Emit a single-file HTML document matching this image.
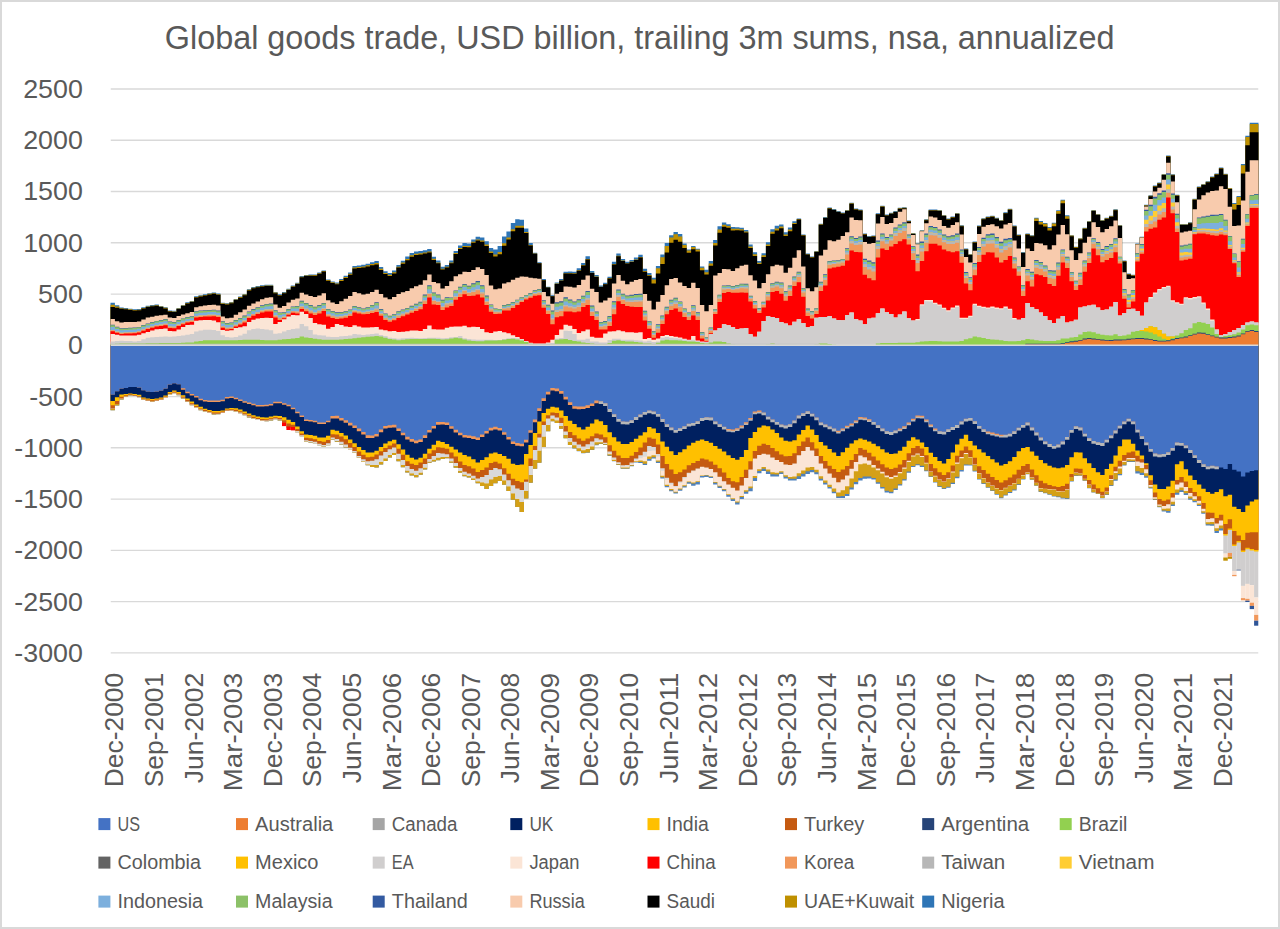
<!DOCTYPE html>
<html><head><meta charset="utf-8"><title>Global goods trade</title>
<style>
html,body{margin:0;padding:0;background:#fff;}
body{width:1280px;height:929px;overflow:hidden;font-family:"Liberation Sans",sans-serif;}
svg{display:block}
svg text{font-family:"Liberation Sans",sans-serif;}
</style></head><body>
<svg width="1280" height="929" viewBox="0 0 1280 929">
<rect x="0" y="0" width="1280" height="929" fill="#ffffff"/>
<rect x="1" y="1" width="1278" height="927" fill="none" stroke="#d9d9d9" stroke-width="2"/>
<defs><clipPath id="pc"><rect x="110.5" y="80" width="1148.0" height="580"/></clipPath></defs>
<g clip-path="url(#pc)">
<line x1="110.5" x2="1258.5" y1="89.0" y2="89.0" stroke="#d9d9d9" stroke-width="1.4"/>
<line x1="110.5" x2="1258.5" y1="140.3" y2="140.3" stroke="#d9d9d9" stroke-width="1.4"/>
<line x1="110.5" x2="1258.5" y1="191.5" y2="191.5" stroke="#d9d9d9" stroke-width="1.4"/>
<line x1="110.5" x2="1258.5" y1="242.8" y2="242.8" stroke="#d9d9d9" stroke-width="1.4"/>
<line x1="110.5" x2="1258.5" y1="294.1" y2="294.1" stroke="#d9d9d9" stroke-width="1.4"/>
<line x1="110.5" x2="1258.5" y1="345.3" y2="345.3" stroke="#d9d9d9" stroke-width="1.4"/>
<line x1="110.5" x2="1258.5" y1="396.6" y2="396.6" stroke="#d9d9d9" stroke-width="1.4"/>
<line x1="110.5" x2="1258.5" y1="447.8" y2="447.8" stroke="#d9d9d9" stroke-width="1.4"/>
<line x1="110.5" x2="1258.5" y1="499.1" y2="499.1" stroke="#d9d9d9" stroke-width="1.4"/>
<line x1="110.5" x2="1258.5" y1="550.4" y2="550.4" stroke="#d9d9d9" stroke-width="1.4"/>
<line x1="110.5" x2="1258.5" y1="601.6" y2="601.6" stroke="#d9d9d9" stroke-width="1.4"/>
<line x1="110.5" x2="1258.5" y1="652.9" y2="652.9" stroke="#d9d9d9" stroke-width="1.4"/>
<path d="M107.5,345.3V302.8H114.9V305.3H119.3V307.6H123.7V308.1H128.1V308.7H132.5V309.3H136.9V309.1H141.3V307.3H145.7V305.8H150.1V305.1H154.5V304.6H158.9V305.9H163.3V307.2H167.7V310.4H172.1V310.8H176.5V307.9H180.9V304.9H185.3V302.3H189.7V300.9H194.1V296.3H198.5V295.2H202.9V294.3H207.3V293.2H211.7V292.6H216.1V293.5H220.5V302.7H224.9V303.2H229.3V302.0H233.7V298.9H238.1V296.5H242.5V294.0H246.9V289.2H251.3V287.1H255.6V286.0H260.0V285.2H264.4V284.8H273.2V292.0H277.6V294.3H282.0V292.1H286.4V288.7H290.8V285.5H295.2V282.7H299.6V276.0H304.0V274.9H308.4V274.6H312.8V274.5H317.2V272.6H321.6V270.4H326.0V279.5H330.4V281.5H334.8V282.4H339.2V278.9H343.6V275.8H348.0V272.4H352.4V266.0H356.8V265.4H361.2V264.7H365.6V263.7H370.0V262.2H374.4V260.9H378.8V266.9H383.2V271.3H387.6V273.0H392.0V270.6H396.4V265.1H400.8V260.7H405.2V256.6H409.6V252.9H414.0V251.4H418.4V251.1H422.8V250.2H427.2V249.1H431.6V256.7H436.0V260.5H440.4V266.8H444.8V265.1H449.2V260.6H453.6V251.1H458.0V245.6H462.4V243.1H466.8V243.4H471.2V239.5H475.6V236.7H480.0V237.5H484.4V241.3H488.8V247.9H493.2V249.6H497.6V245.9H502.0V236.4H506.4V231.4H510.8V223.0H515.2V219.3H519.6V219.7H524.0V228.4H528.4V243.1H532.8V252.7H537.2V262.2H541.5V279.1H545.9V286.7H550.3V295.2H554.7V282.4H559.1V278.9H563.5V271.7H567.9V271.6H572.3V271.7H576.7V268.2H581.1V262.9H585.5V256.3H589.9V270.9H594.3V275.0H598.7V285.5H603.1V282.7H607.5V276.7H611.9V261.8H616.3V253.5H620.7V259.1H625.1V261.8H629.5V259.9H633.9V257.6H638.3V254.7H642.7V268.8H647.1V272.9H651.5V277.8H655.9V266.0H660.3V254.5H664.7V243.1H669.1V235.2H673.5V231.9H677.9V234.1H682.3V243.6H686.7V249.6H691.1V246.0H695.5V248.7H699.9V266.4H704.3V269.8H708.7V261.0H713.1V240.1H717.5V226.3H721.9V222.4H726.3V224.2H730.7V226.9H735.1V227.2H739.5V227.8H743.9V230.0H748.3V244.4H752.7V252.3H757.1V261.0H761.5V253.2H765.9V242.3H770.3V229.2H774.7V225.7H779.1V224.4H783.5V232.3H787.9V227.4H792.3V221.3H796.7V218.4H801.1V234.5H805.5V253.6H809.9V256.4H814.3V250.9H818.7V223.7H823.1V217.1H827.5V207.4H831.8V209.1H836.2V211.1H840.6V212.6H845.0V209.9H849.4V202.7H853.8V208.4H858.2V209.6H862.6V233.4H867.0V236.1H871.4V235.4H875.8V213.3H880.2V205.7H884.6V214.6H889.0V212.8H893.4V211.1H897.8V207.7H902.2V207.2H906.6V220.5H911.0V233.0H915.4V243.2H919.8V230.2H924.2V219.2H928.6V209.6H937.4V210.0H941.8V214.9H946.2V218.4H950.6V216.5H955.0V212.9H959.4V225.2H963.8V248.6H968.2V253.9H972.6V241.5H977.0V225.6H981.4V218.2H985.8V216.5H990.2V215.7H994.6V217.8H999.0V219.9H1003.4V212.3H1007.8V208.7H1012.2V225.6H1016.6V234.5H1021.0V252.1H1025.4V233.5H1029.8V235.2H1034.2V217.7H1038.6V221.1H1043.0V222.9H1047.4V227.1H1051.8V222.7H1056.2V210.2H1060.6V199.8H1065.0V215.3H1069.4V235.3H1073.8V246.8H1078.2V238.2H1082.6V227.7H1087.0V220.9H1091.4V210.0H1095.8V214.0H1100.2V220.1H1104.6V217.8H1109.0V215.8H1113.4V209.2H1117.7V225.1H1122.1V260.6H1126.5V273.4H1130.9V274.8H1135.3V243.4H1139.7V236.7H1144.1V204.8H1148.5V195.3H1152.9V185.5H1157.3V182.4H1161.7V173.9H1166.1V155.6H1170.5V174.3H1174.9V194.7H1179.3V224.1H1188.1V222.3H1192.5V198.7H1196.9V186.5H1201.3V183.9H1205.7V181.3H1210.1V176.6H1214.5V173.5H1218.9V167.6H1223.3V173.7H1227.7V188.1H1232.1V203.1H1236.5V195.9H1240.9V164.0H1245.3V135.8H1249.7V122.8H1261.5V345.3Z" fill="#2e75b6"/>
<path d="M107.5,345.3V304.8H114.9V306.5H119.3V308.2H123.7V308.7H128.1V309.3H132.5V309.9H136.9V309.7H141.3V307.9H145.7V306.4H150.1V305.7H154.5V305.2H158.9V306.5H163.3V307.8H167.7V311.0H172.1V311.4H176.5V308.5H180.9V305.5H185.3V303.0H189.7V301.5H194.1V296.9H198.5V295.8H202.9V294.9H207.3V293.8H211.7V293.2H216.1V294.2H220.5V303.3H224.9V303.8H229.3V302.6H233.7V299.5H238.1V297.1H242.5V294.6H246.9V289.8H251.3V287.8H255.6V286.7H260.0V285.9H264.4V285.4H273.2V292.6H277.6V294.9H282.0V292.8H286.4V289.4H290.8V286.2H295.2V283.4H299.6V276.7H304.0V275.6H308.4V275.2H312.8V275.1H317.2V273.2H321.6V271.1H326.0V280.1H330.4V282.3H334.8V283.4H339.2V280.1H343.6V277.1H348.0V273.7H352.4V267.4H356.8V266.9H361.2V266.4H365.6V265.3H370.0V264.0H374.4V263.1H378.8V268.8H383.2V273.0H387.6V274.8H392.0V272.3H396.4V266.7H400.8V262.6H405.2V259.0H409.6V255.3H414.0V253.7H418.4V253.3H422.8V252.4H427.2V251.4H431.6V258.8H436.0V262.4H440.4V268.7H444.8V266.8H449.2V262.4H453.6V253.1H458.0V247.9H462.4V245.9H466.8V246.0H471.2V241.8H475.6V239.4H480.0V240.6H484.4V244.6H488.8V251.6H493.2V254.5H497.6V252.1H502.0V243.3H506.4V237.4H510.8V229.2H515.2V225.7H519.6V225.8H524.0V231.9H528.4V245.0H532.8V253.5H537.2V262.9H541.5V280.0H545.9V287.4H550.3V296.0H554.7V283.6H559.1V280.4H563.5V273.2H567.9V273.1H572.3V273.3H576.7V270.2H581.1V264.9H585.5V259.0H589.9V272.7H594.3V276.5H598.7V286.7H603.1V283.9H607.5V278.1H611.9V264.1H616.3V255.7H620.7V260.6H625.1V263.3H629.5V261.6H633.9V259.5H638.3V256.9H642.7V271.1H647.1V274.9H651.5V279.6H655.9V268.2H660.3V257.3H664.7V245.9H669.1V237.4H673.5V234.2H677.9V236.4H682.3V244.9H686.7V250.5H691.1V247.0H695.5V249.5H699.9V267.8H704.3V272.2H708.7V263.4H713.1V242.9H717.5V229.6H721.9V224.7H726.3V226.0H730.7V228.8H739.5V229.2H743.9V231.4H748.3V246.4H752.7V254.3H757.1V262.7H761.5V255.3H765.9V244.4H770.3V231.8H774.7V228.4H779.1V226.6H783.5V234.5H787.9V229.6H792.3V223.0H796.7V219.0H801.1V235.1H805.5V254.2H809.9V257.0H814.3V251.5H818.7V224.3H823.1V217.7H827.5V208.0H831.8V209.7H836.2V211.7H840.6V213.2H845.0V210.5H849.4V203.3H853.8V209.0H858.2V210.2H862.6V234.0H867.0V236.7H871.4V236.0H875.8V213.9H880.2V206.3H884.6V215.2H889.0V213.4H893.4V211.7H897.8V208.3H902.2V207.8H906.6V221.1H911.0V233.6H915.4V243.8H919.8V230.8H924.2V219.8H928.6V210.2H937.4V210.6H941.8V215.5H946.2V219.0H950.6V217.1H955.0V213.5H959.4V225.8H963.8V249.2H968.2V254.5H972.6V242.1H977.0V226.2H981.4V218.8H985.8V217.1H990.2V216.3H994.6V218.4H999.0V220.5H1003.4V212.9H1007.8V209.3H1012.2V226.2H1016.6V235.1H1021.0V252.7H1025.4V234.1H1029.8V235.7H1034.2V218.5H1038.6V222.0H1043.0V223.8H1047.4V228.0H1051.8V223.6H1056.2V211.1H1060.6V200.6H1065.0V216.2H1069.4V235.6H1073.8V247.0H1078.2V238.5H1082.6V228.2H1087.0V221.4H1091.4V210.5H1095.8V214.5H1100.2V220.6H1104.6V218.3H1109.0V216.3H1113.4V209.7H1117.7V225.6H1122.1V261.1H1126.5V273.9H1130.9V275.3H1135.3V243.9H1139.7V237.2H1144.1V205.3H1148.5V195.8H1152.9V186.0H1157.3V182.9H1161.7V174.4H1166.1V156.1H1170.5V174.8H1174.9V195.2H1179.3V224.6H1188.1V222.8H1192.5V199.2H1196.9V187.0H1201.3V184.4H1205.7V181.8H1210.1V177.1H1214.5V174.0H1218.9V168.1H1223.3V174.2H1227.7V188.3H1232.1V203.9H1236.5V196.9H1240.9V165.2H1245.3V136.9H1249.7V124.0H1261.5V345.3Z" fill="#bf9000"/>
<path d="M107.5,345.3V306.9H114.9V307.8H119.3V308.8H123.7V309.3H128.1V309.9H132.5V310.5H136.9V310.3H141.3V308.5H145.7V307.0H150.1V306.3H154.5V305.8H158.9V307.1H163.3V308.4H167.7V311.6H172.1V312.0H176.5V309.1H180.9V306.1H185.3V303.5H189.7V302.1H194.1V297.5H198.5V296.4H202.9V295.5H207.3V294.4H211.7V293.8H216.1V294.7H220.5V303.9H224.9V304.4H229.3V303.2H233.7V300.1H238.1V297.7H242.5V295.2H246.9V290.4H251.3V288.3H255.6V287.2H260.0V286.4H264.4V286.0H273.2V293.2H277.6V295.5H282.0V293.3H286.4V289.9H290.8V286.7H295.2V283.9H299.6V277.2H304.0V276.1H308.4V275.8H312.8V275.7H317.2V273.8H321.6V271.6H326.0V280.7H330.4V283.0H334.8V284.2H339.2V281.0H343.6V278.0H348.0V274.7H352.4V268.4H356.8V268.0H361.2V267.5H365.6V266.5H370.0V265.2H374.4V264.6H378.8V270.1H383.2V274.1H387.6V275.9H392.0V273.4H396.4V267.6H400.8V263.7H405.2V260.3H409.6V256.7H414.0V255.0H418.4V254.5H422.8V253.6H427.2V252.5H431.6V259.9H436.0V263.3H440.4V269.6H444.8V267.6H449.2V263.3H453.6V253.9H458.0V248.9H462.4V247.1H466.8V247.2H471.2V242.8H475.6V240.5H480.0V241.8H484.4V245.9H488.8V253.0H493.2V256.4H497.6V254.3H502.0V245.7H506.4V239.5H510.8V231.3H515.2V227.7H519.6V227.8H524.0V233.0H528.4V245.5H532.8V253.7H537.2V263.2H541.5V280.2H545.9V287.6H550.3V296.2H554.7V284.0H559.1V280.8H563.5V273.6H567.9V273.5H572.3V273.7H576.7V270.7H581.1V265.4H585.5V259.6H589.9V273.1H594.3V276.9H598.7V287.0H603.1V284.2H607.5V278.5H611.9V264.6H616.3V256.3H620.7V261.0H625.1V263.6H629.5V262.1H633.9V260.0H638.3V257.5H642.7V271.7H647.1V275.7H651.5V283.4H655.9V273.6H660.3V263.9H664.7V252.4H669.1V242.8H673.5V239.7H677.9V241.7H682.3V248.1H686.7V252.8H691.1V249.2H695.5V251.5H699.9V270.2H704.3V274.5H708.7V265.7H713.1V245.6H717.5V232.7H721.9V226.8H726.3V227.7H730.7V230.6H735.1V230.2H739.5V230.4H743.9V232.6H748.3V248.1H752.7V256.0H757.1V263.9H761.5V256.9H765.9V246.1H770.3V233.8H774.7V230.4H779.1V228.2H783.5V236.1H787.9V231.2H792.3V224.1H796.7V219.4H801.1V235.5H805.5V254.6H809.9V257.4H814.3V251.9H818.7V224.7H823.1V218.1H827.5V208.4H831.8V210.1H836.2V212.1H840.6V213.6H845.0V210.9H849.4V203.7H853.8V209.4H858.2V210.6H862.6V234.4H867.0V237.1H871.4V236.4H875.8V214.3H880.2V206.7H884.6V215.6H889.0V213.8H893.4V212.1H897.8V208.7H902.2V208.2H906.6V221.5H911.0V234.0H915.4V244.2H919.8V231.2H924.2V220.2H928.6V210.6H937.4V211.0H941.8V215.9H946.2V219.4H950.6V217.5H955.0V213.9H959.4V226.2H963.8V249.6H968.2V254.9H972.6V242.5H977.0V226.6H981.4V219.2H985.8V217.5H990.2V216.7H994.6V218.8H999.0V220.9H1003.4V213.3H1007.8V209.7H1012.2V226.6H1016.6V235.5H1021.0V253.1H1025.4V234.5H1029.8V236.2H1034.2V221.0H1038.6V224.6H1043.0V226.4H1047.4V230.6H1051.8V226.2H1056.2V213.7H1060.6V203.3H1065.0V218.8H1069.4V236.3H1073.8V247.8H1078.2V239.2H1082.6V228.7H1087.0V221.9H1091.4V211.0H1095.8V215.0H1100.2V221.1H1104.6V218.8H1109.0V216.8H1113.4V210.2H1117.7V226.1H1122.1V261.6H1126.5V274.4H1130.9V275.8H1135.3V244.4H1139.7V237.6H1144.1V205.8H1148.5V196.3H1152.9V186.5H1157.3V183.4H1161.7V174.9H1166.1V156.6H1170.5V175.3H1174.9V195.7H1179.3V225.1H1188.1V223.3H1192.5V199.7H1196.9V187.5H1201.3V184.9H1205.7V182.3H1210.1V177.6H1214.5V174.5H1218.9V168.6H1223.3V174.7H1227.7V189.1H1232.1V209.6H1236.5V204.9H1240.9V173.5H1245.3V145.3H1249.7V132.3H1261.5V345.3Z" fill="#000000"/>
<path d="M107.5,345.3V319.1H114.9V321.2H119.3V322.5H123.7V322.1H128.1V322.0H132.5V322.1H136.9V321.5H141.3V319.4H145.7V317.5H150.1V316.7H154.5V315.8H158.9V315.3H163.3V314.8H167.7V317.5H172.1V318.0H176.5V315.9H180.9V314.5H185.3V313.2H189.7V312.1H194.1V307.2H198.5V306.2H202.9V305.6H207.3V305.0H211.7V304.7H216.1V305.4H220.5V316.5H224.9V318.2H229.3V317.7H233.7V314.8H238.1V312.2H242.5V309.5H246.9V305.8H251.3V303.5H255.6V301.5H260.0V299.3H264.4V297.7H268.8V297.2H273.2V304.5H277.6V307.7H282.0V306.1H286.4V302.6H290.8V299.8H295.2V298.5H299.6V292.7H304.0V294.6H308.4V296.1H312.8V297.0H317.2V295.4H321.6V293.3H326.0V300.3H330.4V302.5H334.8V303.9H339.2V301.3H343.6V298.7H348.0V296.0H352.4V291.9H356.8V293.3H361.2V294.6H365.6V293.7H370.0V292.0H374.4V289.7H378.8V294.1H383.2V297.5H387.6V299.3H392.0V296.9H396.4V293.9H400.8V292.3H405.2V291.1H409.6V288.3H414.0V286.3H418.4V284.8H422.8V280.2H427.2V274.5H431.6V282.0H436.0V283.3H440.4V288.4H444.8V285.9H449.2V281.2H453.6V276.2H458.0V274.3H462.4V271.7H466.8V272.0H471.2V270.0H475.6V267.3H480.0V269.0H484.4V275.0H488.8V285.6H493.2V289.2H497.6V288.6H502.0V283.4H506.4V282.3H510.8V279.7H515.2V277.8H519.6V276.4H524.0V276.8H528.4V277.7H532.8V278.3H537.2V278.7H541.5V291.9H545.9V296.3H550.3V303.7H554.7V293.7H559.1V292.0H563.5V286.4H567.9V286.8H572.3V287.4H576.7V285.1H581.1V279.8H585.5V275.4H589.9V288.7H594.3V291.9H598.7V302.4H603.1V300.5H607.5V297.8H611.9V283.4H616.3V275.0H620.7V280.7H625.1V284.2H629.5V281.8H633.9V280.0H638.3V278.9H642.7V294.1H647.1V300.8H651.5V309.6H655.9V301.8H660.3V294.9H664.7V285.3H669.1V279.1H673.5V277.9H677.9V282.4H682.3V286.1H686.7V288.1H691.1V282.7H695.5V288.0H699.9V304.9H704.3V311.2H708.7V305.1H713.1V275.4H717.5V273.1H721.9V269.0H726.3V269.3H730.7V271.0H735.1V268.2H739.5V265.7H743.9V264.8H748.3V275.2H752.7V280.5H757.1V288.3H761.5V283.0H765.9V274.2H770.3V266.2H774.7V264.8H779.1V265.6H783.5V272.7H787.9V267.7H792.3V257.8H796.7V250.3H801.1V266.5H805.5V288.3H809.9V291.3H814.3V287.3H818.7V255.6H823.1V249.8H827.5V240.2H831.8V241.3H836.2V239.7H840.6V236.0H845.0V232.3H849.4V217.6H853.8V220.0H858.2V220.3H862.6V241.9H867.0V243.7H871.4V242.9H875.8V223.6H880.2V216.9H884.6V224.0H889.0V223.1H893.4V217.9H897.8V211.8H902.2V209.2H906.6V223.2H911.0V234.9H915.4V244.2H919.8V231.2H924.2V223.3H928.6V216.6H933.0V217.5H937.4V220.1H941.8V226.0H946.2V227.8H950.6V225.0H955.0V222.2H959.4V234.6H963.8V257.1H968.2V262.4H972.6V250.8H977.0V234.0H981.4V226.7H985.8V225.0H990.2V224.2H994.6V226.3H999.0V228.5H1003.4V224.6H1007.8V222.9H1012.2V240.6H1016.6V248.6H1021.0V267.0H1025.4V248.5H1029.8V251.1H1034.2V242.9H1038.6V243.4H1043.0V245.2H1047.4V249.6H1051.8V245.2H1056.2V234.5H1060.6V225.0H1065.0V234.2H1069.4V250.3H1073.8V260.0H1078.2V253.2H1082.6V242.7H1087.0V236.7H1091.4V222.2H1095.8V227.0H1100.2V232.3H1104.6V229.1H1109.0V226.2H1113.4V220.4H1117.7V238.1H1122.1V272.3H1126.5V278.9H1130.9V278.2H1135.3V244.4H1139.7V237.6H1144.1V206.4H1148.5V198.9H1152.9V191.5H1157.3V187.8H1161.7V179.8H1166.1V162.7H1170.5V181.6H1174.9V202.2H1179.3V232.4H1183.7V231.6H1188.1V230.7H1192.5V209.2H1196.9V199.6H1201.3V195.2H1205.7V192.5H1210.1V191.1H1214.5V190.4H1218.9V186.2H1223.3V189.1H1227.7V206.8H1232.1V226.1H1236.5V225.4H1240.9V200.5H1245.3V171.8H1249.7V160.3H1261.5V345.3Z" fill="#f8cbad"/>
<path d="M107.5,345.3V324.7H114.9V326.8H119.3V328.3H123.7V328.0H128.1V327.8H132.5V327.6H136.9V326.9H141.3V325.1H145.7V323.4H150.1V322.1H154.5V320.9H158.9V320.0H163.3V319.1H167.7V321.5H172.1V321.9H176.5V320.0H180.9V318.4H185.3V317.0H189.7V316.3H194.1V311.3H198.5V310.6H202.9V310.2H207.3V309.9H211.7V309.8H216.1V310.6H220.5V321.2H224.9V322.9H229.3V322.6H233.7V320.0H238.1V317.9H242.5V315.6H246.9V311.5H251.3V309.1H255.6V307.2H260.0V305.3H264.4V303.9H268.8V303.5H273.2V310.2H277.6V312.4H282.0V312.2H286.4V309.0H290.8V306.6H295.2V306.0H299.6V300.7H304.0V302.9H308.4V305.0H312.8V306.7H317.2V305.0H321.6V302.9H326.0V308.9H330.4V310.9H334.8V312.3H339.2V311.9H343.6V311.2H348.0V309.4H352.4V306.0H356.8V307.3H361.2V308.6H365.6V307.2H370.0V305.0H374.4V302.3H378.8V309.1H383.2V313.5H387.6V315.8H392.0V314.2H396.4V311.2H400.8V309.4H405.2V308.0H409.6V305.8H414.0V303.8H418.4V301.8H422.8V294.6H427.2V285.3H431.6V292.4H436.0V294.5H440.4V299.7H444.8V297.2H449.2V297.4H453.6V290.4H458.0V286.7H462.4V283.9H466.8V285.8H471.2V283.3H475.6V281.1H480.0V285.3H484.4V295.6H488.8V304.4H493.2V308.5H497.6V308.9H502.0V305.0H506.4V303.9H510.8V302.0H515.2V299.7H519.6V297.2H524.0V294.9H528.4V293.0H532.8V290.2H537.2V289.1H541.5V300.3H545.9V304.7H550.3V310.4H554.7V302.2H559.1V301.3H563.5V297.3H567.9V299.6H572.3V301.5H576.7V299.2H581.1V295.7H585.5V291.0H589.9V305.5H594.3V311.5H598.7V322.0H603.1V321.0H607.5V315.9H611.9V301.2H616.3V289.6H620.7V293.8H625.1V295.6H629.5V294.8H633.9V293.9H638.3V293.8H642.7V310.8H647.1V321.2H651.5V331.2H655.9V324.2H660.3V315.6H664.7V306.8H669.1V299.8H673.5V297.7H677.9V301.4H682.3V308.4H686.7V312.4H691.1V305.3H695.5V312.3H699.9V332.0H704.3V337.3H708.7V327.6H713.1V309.2H717.5V294.8H721.9V285.4H726.3V285.3H730.7V286.1H735.1V285.0H739.5V283.7H743.9V283.8H748.3V295.8H752.7V301.1H757.1V308.1H761.5V301.8H765.9V292.0H770.3V283.2H774.7V281.7H779.1V282.5H783.5V291.3H787.9V285.6H792.3V276.6H796.7V271.8H801.1V288.2H805.5V308.6H809.9V311.1H814.3V308.2H818.7V281.8H823.1V274.3H827.5V260.9H831.8V260.6H836.2V260.3H840.6V258.9H845.0V248.3H849.4V236.3H853.8V237.9H858.2V236.4H862.6V258.8H867.0V260.5H871.4V262.3H875.8V240.5H880.2V233.6H884.6V237.0H889.0V234.4H893.4V227.4H897.8V224.4H902.2V222.3H906.6V234.6H911.0V246.2H915.4V254.5H919.8V241.5H924.2V233.5H928.6V226.0H933.0V226.9H937.4V229.5H941.8V234.5H946.2V236.2H950.6V235.3H955.0V233.5H959.4V249.6H963.8V272.1H968.2V277.2H972.6V263.0H977.0V247.1H981.4V237.7H985.8V234.3H990.2V233.6H994.6V236.9H999.0V241.7H1003.4V238.8H1007.8V238.1H1012.2V257.5H1016.6V266.4H1021.0V284.9H1025.4V269.1H1029.8V271.8H1034.2V260.1H1038.6V261.9H1043.0V265.4H1047.4V270.2H1051.8V270.4H1056.2V262.6H1060.6V249.4H1065.0V256.7H1069.4V271.9H1073.8V280.7H1078.2V272.7H1082.6V260.5H1087.0V252.6H1091.4V238.2H1095.8V242.1H1100.2V249.1H1104.6V246.0H1109.0V243.9H1113.4V238.2H1117.7V256.7H1122.1V289.1H1126.5V294.5H1130.9V289.9H1135.3V253.0H1139.7V244.1H1144.1V209.8H1148.5V204.8H1152.9V196.8H1157.3V193.2H1161.7V190.4H1166.1V173.3H1170.5V193.5H1174.9V213.7H1179.3V245.5H1183.7V244.7H1188.1V243.8H1192.5V227.1H1196.9V217.5H1201.3V216.6H1205.7V215.7H1210.1V214.8H1214.5V214.7H1218.9V213.9H1223.3V219.8H1227.7V235.9H1232.1V253.5H1236.5V261.2H1240.9V238.7H1245.3V214.0H1249.7V194.9H1254.1V194.1H1261.5V345.3Z" fill="#335aa1"/>
<path d="M107.5,345.3V325.2H114.9V327.3H119.3V328.7H123.7V328.5H128.1V328.2H132.5V328.1H136.9V327.3H141.3V325.6H145.7V323.9H150.1V322.6H154.5V321.3H158.9V320.4H163.3V319.6H167.7V322.0H172.1V322.4H176.5V320.5H180.9V318.8H185.3V317.4H189.7V316.7H194.1V311.8H198.5V311.1H202.9V310.8H207.3V310.4H211.7V310.3H216.1V311.2H220.5V321.8H224.9V323.4H229.3V323.1H233.7V320.6H238.1V318.4H242.5V316.2H246.9V312.0H251.3V309.7H255.6V307.8H260.0V305.9H264.4V304.5H268.8V304.2H273.2V310.8H277.6V313.0H282.0V312.7H286.4V309.4H290.8V307.1H295.2V306.6H299.6V301.4H304.0V303.6H308.4V305.7H312.8V307.3H317.2V305.7H321.6V303.5H326.0V309.5H330.4V311.5H334.8V312.9H339.2V312.5H343.6V311.7H348.0V309.9H352.4V306.5H356.8V307.8H361.2V309.1H365.6V307.8H370.0V305.6H374.4V303.1H378.8V309.7H383.2V314.0H387.6V316.3H392.0V314.7H396.4V311.7H400.8V310.0H405.2V308.5H409.6V306.4H414.0V304.4H418.4V302.4H422.8V295.4H427.2V286.3H431.6V293.3H436.0V295.3H440.4V300.5H444.8V298.0H449.2V298.1H453.6V291.1H458.0V287.5H462.4V284.7H466.8V286.6H471.2V284.3H475.6V282.2H480.0V286.3H484.4V296.4H488.8V305.0H493.2V309.0H497.6V309.3H502.0V305.4H506.4V304.4H510.8V302.5H515.2V300.1H519.6V297.6H524.0V295.2H528.4V293.4H532.8V290.7H537.2V289.6H541.5V300.9H545.9V305.4H550.3V311.5H554.7V303.4H559.1V302.5H563.5V298.5H567.9V300.6H572.3V302.3H576.7V300.2H581.1V296.6H585.5V292.1H589.9V306.4H594.3V312.2H598.7V322.6H603.1V321.7H607.5V316.7H611.9V302.2H616.3V290.5H620.7V294.6H625.1V296.3H629.5V295.7H633.9V294.9H638.3V294.8H642.7V311.5H647.1V321.8H651.5V331.7H655.9V324.9H660.3V316.2H664.7V307.4H669.1V300.6H673.5V298.5H677.9V302.1H682.3V309.1H686.7V313.0H691.1V306.0H695.5V312.9H699.9V332.5H704.3V337.6H708.7V328.0H713.1V309.6H717.5V295.3H721.9V286.0H726.3V285.7H730.7V286.6H735.1V285.6H739.5V284.3H743.9V284.4H748.3V296.2H752.7V301.6H757.1V308.4H761.5V302.2H765.9V292.6H770.3V283.8H774.7V282.4H779.1V283.3H783.5V292.0H787.9V286.3H792.3V277.3H796.7V272.6H801.1V288.8H805.5V309.2H809.9V311.6H814.3V308.6H818.7V282.4H823.1V275.1H827.5V261.5H831.8V261.1H836.2V260.7H840.6V259.3H845.0V249.1H849.4V237.3H853.8V238.9H858.2V237.5H862.6V259.9H867.0V261.8H871.4V263.6H875.8V241.7H880.2V234.6H884.6V237.9H889.0V235.2H893.4V228.5H897.8V225.6H902.2V223.5H906.6V235.3H911.0V247.1H915.4V255.7H919.8V242.9H924.2V234.8H928.6V227.2H933.0V228.0H937.4V230.6H941.8V235.5H946.2V237.3H950.6V236.5H955.0V234.7H959.4V250.5H963.8V272.9H968.2V278.1H972.6V263.9H977.0V248.1H981.4V238.9H985.8V235.6H990.2V234.9H994.6V238.3H999.0V243.2H1003.4V240.3H1007.8V239.4H1012.2V258.3H1016.6V267.0H1021.0V285.6H1025.4V270.0H1029.8V272.8H1034.2V261.1H1038.6V262.8H1043.0V266.2H1047.4V271.2H1051.8V271.5H1056.2V263.6H1060.6V250.3H1065.0V257.5H1069.4V272.5H1073.8V281.3H1078.2V273.6H1082.6V261.3H1087.0V253.3H1091.4V238.9H1095.8V243.0H1100.2V250.1H1104.6V246.9H1109.0V244.8H1113.4V239.2H1117.7V257.1H1122.1V289.7H1126.5V295.3H1130.9V290.6H1135.3V253.5H1139.7V244.7H1144.1V211.1H1148.5V206.3H1152.9V198.6H1157.3V194.8H1161.7V192.0H1166.1V174.7H1170.5V194.7H1174.9V214.8H1179.3V246.4H1183.7V245.6H1188.1V244.6H1192.5V227.4H1196.9V218.3H1201.3V217.5H1205.7V216.7H1210.1V215.9H1214.5V215.7H1218.9V214.9H1223.3V220.5H1227.7V236.6H1232.1V254.0H1236.5V261.9H1240.9V239.4H1245.3V214.6H1249.7V195.6H1254.1V194.8H1261.5V345.3Z" fill="#8cc168"/>
<path d="M107.5,345.3V327.0H114.9V328.9H119.3V330.2H123.7V330.0H128.1V329.7H132.5V329.6H136.9V328.8H141.3V327.1H145.7V325.4H150.1V324.1H154.5V322.8H158.9V322.0H163.3V321.2H167.7V323.7H172.1V324.1H176.5V322.1H180.9V320.4H185.3V318.9H189.7V318.2H194.1V313.4H198.5V312.8H202.9V312.4H207.3V312.1H211.7V312.0H216.1V312.8H220.5V323.4H224.9V325.1H229.3V324.8H233.7V322.3H238.1V320.2H242.5V317.9H246.9V313.7H251.3V311.3H255.6V309.5H260.0V307.7H264.4V306.5H268.8V306.2H273.2V312.6H277.6V314.9H282.0V314.2H286.4V310.9H290.8V308.6H295.2V308.4H299.6V303.4H304.0V305.6H308.4V307.8H312.8V309.4H317.2V307.7H321.6V305.6H326.0V311.4H330.4V313.2H334.8V314.5H339.2V314.1H343.6V313.3H348.0V311.5H352.4V308.1H356.8V309.3H361.2V310.5H365.6V309.4H370.0V307.6H374.4V305.5H378.8V311.2H383.2V315.6H387.6V317.7H392.0V316.1H396.4V313.4H400.8V311.6H405.2V310.0H409.6V308.0H414.0V306.1H418.4V304.2H422.8V297.6H427.2V289.2H431.6V296.2H436.0V297.8H440.4V302.9H444.8V300.4H449.2V300.1H453.6V293.3H458.0V289.8H462.4V287.1H466.8V289.0H471.2V287.2H475.6V285.3H480.0V289.1H484.4V298.5H488.8V306.7H493.2V310.2H497.6V310.4H502.0V306.7H506.4V305.9H510.8V303.8H515.2V301.3H519.6V298.7H524.0V296.3H528.4V294.4H532.8V291.9H537.2V291.0H541.5V302.6H545.9V307.5H550.3V314.5H554.7V306.7H559.1V305.8H563.5V301.6H567.9V303.2H572.3V304.7H576.7V302.8H581.1V299.0H585.5V295.0H589.9V308.5H594.3V313.9H598.7V324.2H603.1V323.4H607.5V318.8H611.9V304.8H616.3V292.9H620.7V296.6H625.1V298.4H629.5V298.1H633.9V297.4H638.3V297.3H642.7V313.4H647.1V323.2H651.5V332.9H655.9V326.5H660.3V317.8H664.7V308.8H669.1V302.4H673.5V300.5H677.9V304.0H682.3V310.6H686.7V314.3H691.1V307.8H695.5V314.2H699.9V333.7H704.3V338.2H708.7V329.0H713.1V310.4H717.5V296.5H721.9V287.2H726.3V286.8H730.7V287.7H735.1V286.8H739.5V285.7H743.9V285.8H748.3V297.1H752.7V302.8H757.1V309.2H761.5V303.1H765.9V293.9H770.3V285.2H774.7V283.7H779.1V285.0H783.5V293.4H787.9V287.8H792.3V278.6H796.7V274.0H801.1V290.0H805.5V310.2H809.9V312.6H814.3V309.4H818.7V283.7H823.1V276.7H827.5V262.5H831.8V262.1H836.2V261.6H840.6V260.3H845.0V250.8H849.4V239.3H853.8V240.9H858.2V239.7H862.6V262.1H867.0V264.2H871.4V266.1H875.8V244.1H880.2V236.7H884.6V239.8H889.0V236.9H893.4V230.9H897.8V228.0H902.2V225.9H906.6V236.6H911.0V249.1H915.4V258.0H919.8V245.6H924.2V237.3H928.6V229.7H933.0V230.4H937.4V232.8H941.8V237.6H946.2V239.4H950.6V238.8H955.0V237.2H959.4V252.3H963.8V274.5H968.2V279.9H972.6V265.6H977.0V250.2H981.4V241.3H985.8V238.1H990.2V237.6H994.6V241.2H999.0V246.1H1003.4V243.2H1007.8V241.9H1012.2V259.9H1016.6V268.4H1021.0V287.2H1025.4V271.7H1029.8V274.9H1034.2V263.1H1038.6V264.7H1043.0V267.8H1047.4V273.2H1051.8V273.7H1056.2V265.4H1060.6V252.2H1065.0V259.1H1069.4V273.8H1073.8V282.6H1078.2V275.3H1082.6V262.9H1087.0V254.8H1091.4V240.3H1095.8V244.9H1100.2V251.9H1104.6V249.0H1109.0V247.1H1113.4V241.5H1117.7V258.3H1122.1V291.4H1126.5V297.7H1130.9V292.9H1135.3V255.2H1139.7V246.6H1144.1V215.4H1148.5V211.1H1152.9V204.8H1157.3V200.1H1161.7V197.4H1166.1V179.6H1170.5V198.7H1174.9V218.5H1179.3V249.4H1183.7V248.8H1192.5V229.9H1196.9V223.9H1201.3V223.3H1205.7V223.1H1210.1V223.0H1214.5V223.1H1218.9V222.1H1223.3V225.9H1227.7V241.2H1232.1V257.4H1236.5V267.5H1240.9V243.9H1245.3V218.8H1249.7V200.2H1254.1V199.7H1261.5V345.3Z" fill="#7cafdd"/>
<path d="M107.5,345.3V329.9H114.9V331.6H119.3V332.7H123.7V332.5H128.1V332.2H132.5V332.0H136.9V331.3H141.3V329.5H145.7V327.8H150.1V326.5H154.5V325.2H158.9V324.5H163.3V323.8H167.7V326.4H172.1V326.8H176.5V324.6H180.9V322.8H185.3V321.2H189.7V320.5H194.1V316.0H198.5V315.3H202.9V315.0H207.3V314.7H216.1V315.4H220.5V326.1H224.9V327.7H229.3V327.4H233.7V324.8H238.1V322.8H242.5V320.6H246.9V316.3H251.3V313.9H255.6V312.1H260.0V310.4H264.4V309.4H268.8V309.2H273.2V315.4H277.6V317.7H282.0V316.5H286.4V313.0H290.8V310.9H295.2V311.1H299.6V306.5H304.0V308.7H308.4V310.8H312.8V312.4H317.2V310.7H321.6V308.5H326.0V314.1H330.4V315.7H334.8V316.8H339.2V316.3H343.6V315.6H348.0V313.8H352.4V310.4H356.8V311.4H361.2V312.4H365.6V311.6H370.0V310.3H374.4V308.7H378.8V313.4H383.2V317.7H387.6V319.7H392.0V318.0H396.4V315.6H400.8V313.8H405.2V312.1H409.6V310.2H414.0V308.3H418.4V306.5H422.8V300.5H427.2V292.9H431.6V299.9H436.0V301.0H440.4V306.0H444.8V303.5H449.2V302.7H453.6V296.1H458.0V292.8H462.4V290.1H466.8V292.0H471.2V290.8H475.6V289.1H480.0V292.5H484.4V301.2H488.8V308.7H493.2V311.8H502.0V308.3H506.4V307.6H510.8V305.4H515.2V302.7H519.6V299.9H524.0V297.5H528.4V295.7H532.8V293.4H537.2V292.6H541.5V304.5H545.9V309.9H550.3V318.0H554.7V310.5H559.1V309.5H563.5V305.1H567.9V306.1H572.3V307.3H576.7V305.7H581.1V301.7H585.5V298.4H589.9V311.0H594.3V315.9H598.7V326.0H603.1V325.4H607.5V321.1H611.9V307.8H616.3V295.5H620.7V299.0H625.1V300.7H633.9V300.3H638.3V300.1H642.7V315.5H647.1V324.9H651.5V334.3H655.9V328.2H660.3V319.5H664.7V310.3H669.1V304.5H673.5V302.7H677.9V306.1H682.3V312.3H686.7V315.8H691.1V309.8H695.5V315.7H699.9V334.9H704.3V339.0H708.7V330.0H713.1V311.3H717.5V297.8H721.9V288.6H726.3V288.0H730.7V288.9H735.1V288.2H739.5V287.2H743.9V287.4H748.3V298.1H752.7V304.0H757.1V310.0H761.5V304.0H765.9V295.2H770.3V286.6H774.7V285.2H779.1V286.7H783.5V294.8H787.9V289.4H792.3V280.1H796.7V275.6H801.1V291.3H805.5V311.3H809.9V313.7H814.3V310.2H818.7V285.1H823.1V278.3H827.5V263.7H831.8V263.1H836.2V262.6H840.6V261.4H845.0V252.7H849.4V241.4H853.8V243.0H858.2V242.1H862.6V264.5H867.0V266.9H871.4V268.8H875.8V246.6H880.2V239.0H884.6V241.7H889.0V238.8H893.4V233.3H897.8V230.5H902.2V228.4H906.6V238.1H911.0V251.2H915.4V260.5H919.8V248.5H924.2V239.9H928.6V232.4H933.0V232.9H937.4V235.2H941.8V239.9H946.2V241.6H950.6V241.4H955.0V239.9H959.4V254.3H963.8V276.1H968.2V281.9H972.6V267.4H977.0V252.5H981.4V243.9H985.8V240.8H990.2V240.4H994.6V244.3H999.0V249.2H1003.4V246.4H1007.8V244.5H1012.2V261.5H1016.6V269.8H1021.0V288.9H1025.4V273.5H1029.8V277.1H1034.2V265.2H1038.6V266.7H1043.0V269.6H1047.4V275.2H1051.8V276.0H1056.2V267.4H1060.6V254.1H1065.0V260.8H1069.4V275.3H1073.8V284.1H1078.2V277.1H1082.6V264.5H1087.0V256.3H1091.4V241.9H1095.8V246.8H1100.2V253.9H1104.6V251.2H1109.0V249.4H1113.4V243.8H1117.7V259.5H1122.1V293.2H1126.5V300.1H1130.9V295.1H1135.3V256.9H1139.7V248.5H1144.1V219.7H1148.5V215.8H1152.9V210.9H1157.3V205.4H1161.7V202.9H1166.1V184.5H1170.5V202.6H1174.9V222.2H1179.3V252.4H1183.7V251.9H1188.1V252.6H1192.5V232.1H1196.9V228.7H1201.3V228.4H1205.7V228.7H1210.1V229.1H1214.5V229.4H1218.9V228.3H1223.3V230.6H1227.7V245.1H1232.1V260.3H1236.5V272.2H1240.9V247.8H1245.3V222.4H1249.7V204.2H1254.1V203.9H1261.5V345.3Z" fill="#ffcd33"/>
<path d="M107.5,345.3V329.9H114.9V331.6H119.3V332.7H123.7V332.5H128.1V332.2H132.5V332.0H136.9V331.3H141.3V329.5H145.7V327.8H150.1V326.5H154.5V325.2H158.9V324.5H163.3V323.8H167.7V326.4H172.1V326.8H176.5V324.6H180.9V322.8H185.3V321.2H189.7V320.5H194.1V316.0H198.5V315.3H202.9V315.0H207.3V314.7H216.1V315.4H220.5V326.1H224.9V327.7H229.3V327.4H233.7V324.8H238.1V322.8H242.5V320.6H246.9V316.3H251.3V313.9H255.6V312.1H260.0V310.4H264.4V309.4H268.8V309.2H273.2V315.4H277.6V317.7H282.0V316.5H286.4V313.0H290.8V310.9H295.2V311.1H299.6V306.5H304.0V308.7H308.4V310.8H312.8V312.4H317.2V310.7H321.6V308.5H326.0V314.1H330.4V315.7H334.8V316.8H339.2V316.3H343.6V315.6H348.0V313.8H352.4V310.4H356.8V311.4H361.2V312.4H365.6V311.6H370.0V310.3H374.4V308.7H378.8V313.4H383.2V317.7H387.6V319.7H392.0V318.0H396.4V315.6H400.8V313.8H405.2V312.1H409.6V310.2H414.0V308.3H418.4V306.5H422.8V300.5H427.2V292.9H431.6V299.9H436.0V301.0H440.4V306.0H444.8V303.5H449.2V302.7H453.6V296.1H458.0V292.8H462.4V290.1H466.8V292.0H471.2V290.8H475.6V289.1H480.0V292.5H484.4V301.2H488.8V308.7H493.2V311.8H502.0V308.3H506.4V307.6H510.8V305.4H515.2V302.7H519.6V299.9H524.0V297.5H528.4V295.7H532.8V293.4H537.2V292.6H541.5V304.5H545.9V309.9H550.3V318.0H554.7V310.5H559.1V309.5H563.5V305.1H567.9V306.1H572.3V307.3H576.7V305.7H581.1V301.7H585.5V298.4H589.9V311.0H594.3V315.9H598.7V326.0H603.1V325.4H607.5V321.1H611.9V307.8H616.3V295.5H620.7V299.0H625.1V300.7H633.9V300.3H638.3V300.1H642.7V315.5H647.1V324.9H651.5V334.3H655.9V328.2H660.3V319.5H664.7V310.3H669.1V304.5H673.5V302.7H677.9V306.1H682.3V312.3H686.7V315.8H691.1V309.8H695.5V315.7H699.9V334.9H704.3V339.0H708.7V330.0H713.1V311.3H717.5V297.8H721.9V288.6H726.3V288.0H730.7V288.9H735.1V288.2H739.5V287.2H743.9V287.4H748.3V298.1H752.7V304.0H757.1V310.0H761.5V304.0H765.9V295.2H770.3V286.6H774.7V285.2H779.1V286.7H783.5V294.8H787.9V289.4H792.3V280.1H796.7V275.6H801.1V291.3H805.5V311.4H809.9V313.7H814.3V310.2H818.7V285.1H823.1V278.4H827.5V263.7H831.8V263.1H836.2V262.7H840.6V261.4H845.0V252.8H849.4V241.5H853.8V243.1H858.2V242.2H862.6V264.6H867.0V267.0H871.4V268.9H875.8V246.8H880.2V239.1H884.6V241.9H889.0V238.9H893.4V233.5H897.8V230.7H902.2V228.6H906.6V238.2H911.0V251.4H915.4V260.8H919.8V248.9H924.2V240.2H928.6V232.7H933.0V233.2H937.4V235.5H941.8V240.2H946.2V241.9H950.6V241.7H955.0V240.2H959.4V254.6H963.8V276.4H968.2V282.2H972.6V267.7H977.0V252.8H981.4V244.3H985.8V241.2H990.2V240.9H994.6V244.9H999.0V249.7H1003.4V247.0H1007.8V245.0H1012.2V261.8H1016.6V270.0H1021.0V289.2H1025.4V273.9H1029.8V277.6H1034.2V265.7H1038.6V267.1H1043.0V270.0H1047.4V275.7H1051.8V276.6H1056.2V267.8H1060.6V254.6H1065.0V261.2H1069.4V275.6H1073.8V284.4H1078.2V277.6H1082.6V265.0H1087.0V256.7H1091.4V242.3H1095.8V247.4H1100.2V254.6H1104.6V252.2H1109.0V250.5H1113.4V245.3H1117.7V260.3H1122.1V294.5H1126.5V302.1H1130.9V297.1H1135.3V258.5H1139.7V250.5H1144.1V224.0H1148.5V220.6H1152.9V217.1H1157.3V210.7H1161.7V208.3H1166.1V189.3H1170.5V206.6H1174.9V225.8H1179.3V255.4H1183.7V254.8H1188.1V254.7H1192.5V232.7H1196.9V229.9H1201.3V229.7H1205.7V230.2H1210.1V230.7H1214.5V231.1H1218.9V230.0H1223.3V231.8H1227.7V246.2H1232.1V261.0H1236.5V273.4H1240.9V248.9H1245.3V223.4H1249.7V205.2H1254.1V205.0H1261.5V345.3Z" fill="#b7b7b7"/>
<path d="M107.5,345.3V330.3H114.9V331.9H119.3V333.0H123.7V332.8H128.1V332.5H132.5V332.3H136.9V331.6H141.3V329.8H145.7V328.1H150.1V326.8H154.5V325.5H158.9V324.9H163.3V324.2H167.7V326.8H172.1V327.2H176.5V325.0H180.9V323.1H185.3V321.6H189.7V320.8H194.1V316.3H198.5V315.7H202.9V315.4H207.3V315.1H216.1V315.8H220.5V326.5H224.9V328.1H229.3V327.8H233.7V325.3H238.1V323.2H242.5V321.1H246.9V316.7H251.3V314.3H255.6V312.5H260.0V310.9H264.4V309.9H268.8V309.8H273.2V315.9H277.6V318.2H282.0V316.9H286.4V313.4H290.8V311.3H295.2V311.7H299.6V307.1H304.0V309.3H308.4V311.4H312.8V313.1H317.2V311.3H321.6V309.1H326.0V314.6H330.4V316.3H334.8V317.3H339.2V316.8H343.6V316.1H348.0V314.3H352.4V310.9H356.8V311.8H361.2V312.8H365.6V312.1H370.0V310.9H374.4V309.5H378.8V313.9H383.2V318.3H387.6V320.1H392.0V318.5H396.4V316.2H400.8V314.4H405.2V312.7H409.6V310.8H414.0V309.0H418.4V307.1H422.8V301.3H427.2V294.0H431.6V301.0H436.0V301.9H440.4V306.9H444.8V304.4H449.2V303.4H453.6V296.9H458.0V293.7H462.4V291.1H466.8V292.9H471.2V291.9H475.6V290.3H480.0V293.6H484.4V302.0H488.8V309.4H493.2V312.3H497.6V312.2H502.0V308.8H506.4V308.3H510.8V305.9H515.2V303.2H519.6V300.4H524.0V298.0H528.4V296.1H532.8V293.9H537.2V293.2H541.5V305.2H545.9V310.8H550.3V319.4H554.7V311.9H559.1V311.0H563.5V306.5H567.9V307.4H572.3V308.4H576.7V307.0H581.1V302.9H585.5V299.8H589.9V312.1H594.3V316.8H598.7V326.8H603.1V326.3H607.5V322.2H611.9V309.2H616.3V296.8H620.7V300.1H625.1V301.8H629.5V302.0H633.9V301.7H638.3V301.6H642.7V316.6H647.1V325.7H651.5V335.0H655.9V329.2H660.3V320.5H664.7V311.2H669.1V305.7H673.5V304.0H677.9V307.3H682.3V313.3H686.7V316.7H691.1V311.1H695.5V316.6H699.9V335.7H704.3V339.4H708.7V330.7H713.1V311.9H717.5V298.7H721.9V289.5H726.3V288.9H730.7V289.7H735.1V289.2H739.5V288.3H743.9V288.6H748.3V298.8H752.7V305.0H757.1V310.7H761.5V304.7H765.9V296.4H770.3V287.8H774.7V286.5H779.1V288.3H783.5V296.2H787.9V290.8H792.3V281.4H796.7V277.0H801.1V292.5H805.5V312.4H809.9V314.7H814.3V311.1H818.7V286.4H823.1V279.9H827.5V264.8H831.8V264.1H836.2V263.6H840.6V262.4H845.0V254.5H849.4V243.4H853.8V245.1H858.2V244.4H862.6V266.9H867.0V269.5H871.4V271.4H875.8V249.1H880.2V241.2H884.6V243.7H889.0V240.6H893.4V235.9H897.8V233.1H902.2V231.0H906.6V239.6H911.0V253.3H915.4V263.1H919.8V251.6H924.2V242.7H928.6V235.2H933.0V235.6H937.4V237.8H941.8V242.3H946.2V244.0H950.6V244.1H955.0V242.7H959.4V256.4H963.8V278.0H968.2V284.0H972.6V269.4H977.0V255.0H981.4V246.6H985.8V243.7H990.2V243.5H994.6V247.8H999.0V252.6H1003.4V250.0H1007.8V247.5H1012.2V263.4H1016.6V271.4H1021.0V290.8H1025.4V275.6H1029.8V279.6H1034.2V267.7H1038.6V268.9H1043.0V271.6H1047.4V277.7H1051.8V278.8H1056.2V269.7H1060.6V256.4H1065.0V262.8H1069.4V276.9H1073.8V285.7H1078.2V279.2H1082.6V266.5H1087.0V258.2H1091.4V243.8H1095.8V249.2H1100.2V256.4H1104.6V254.1H1109.0V252.5H1113.4V247.2H1117.7V261.3H1122.1V295.8H1126.5V303.9H1130.9V298.8H1135.3V259.7H1139.7V251.8H1144.1V227.0H1148.5V224.0H1152.9V221.4H1157.3V214.4H1161.7V212.1H1166.1V192.7H1170.5V209.4H1174.9V228.4H1179.3V257.5H1183.7V256.8H1188.1V256.4H1192.5V233.4H1196.9V231.5H1201.3V231.4H1205.7V232.0H1210.1V232.7H1214.5V233.2H1218.9V232.1H1223.3V233.4H1227.7V247.5H1232.1V262.0H1236.5V275.0H1240.9V250.1H1245.3V224.6H1249.7V206.5H1254.1V206.4H1261.5V345.3Z" fill="#f1975a"/>
<path d="M107.5,345.3V331.3H114.9V332.8H119.3V333.9H123.7V333.6H128.1V333.4H132.5V333.2H136.9V332.5H141.3V330.7H145.7V329.1H150.1V327.8H154.5V326.5H158.9V325.9H163.3V325.3H167.7V327.9H172.1V328.3H176.5V326.0H180.9V324.2H185.3V322.6H189.7V321.9H194.1V317.5H198.5V316.9H202.9V316.6H207.3V316.4H211.7V316.3H216.1V317.0H220.5V327.8H224.9V329.4H229.3V329.1H233.7V326.6H238.1V324.6H242.5V322.5H246.9V318.1H251.3V315.7H255.6V313.9H260.0V312.5H264.4V311.6H273.2V317.5H277.6V319.9H282.0V318.3H286.4V314.7H290.8V312.8H295.2V313.4H299.6V309.1H304.0V311.3H308.4V313.4H312.8V315.1H317.2V313.4H321.6V311.1H326.0V316.5H330.4V318.0H334.8V319.0H339.2V318.5H343.6V317.8H348.0V316.0H352.4V312.5H356.8V313.4H361.2V314.3H365.6V313.9H370.0V313.1H374.4V312.1H378.8V315.7H383.2V320.0H387.6V321.8H392.0V320.2H396.4V318.1H400.8V316.3H405.2V314.5H409.6V312.8H414.0V311.0H418.4V309.3H422.8V304.1H427.2V297.5H431.6V304.6H436.0V305.0H440.4V310.0H444.8V307.5H449.2V306.1H453.6V299.7H458.0V296.9H462.4V294.2H466.8V296.1H471.2V295.8H475.6V294.5H480.0V297.5H484.4V305.0H488.8V311.7H493.2V314.1H497.6V313.8H502.0V310.6H506.4V310.4H510.8V307.9H515.2V305.0H519.6V301.9H524.0V299.6H528.4V297.7H532.8V295.8H537.2V295.3H541.5V307.8H545.9V314.0H550.3V324.2H554.7V317.2H559.1V316.3H563.5V311.5H567.9V311.6H572.3V312.3H576.7V311.4H581.1V307.0H585.5V305.0H589.9V316.0H594.3V320.0H598.7V329.6H603.1V329.4H607.5V326.0H611.9V314.2H616.3V301.3H620.7V304.1H625.1V305.9H629.5V306.8H633.9V306.9H642.7V320.5H647.1V328.8H651.5V337.7H655.9V332.7H660.3V324.0H664.7V314.3H669.1V309.9H673.5V308.5H677.9V311.8H682.3V317.0H686.7V319.9H691.1V315.5H695.5V319.9H699.9V338.6H704.3V341.1H708.7V333.2H713.1V314.0H717.5V301.9H721.9V292.9H726.3V291.9H730.7V292.7H735.1V292.8H739.5V292.4H743.9V292.8H748.3V301.5H752.7V308.5H757.1V313.0H761.5V307.4H765.9V300.4H770.3V292.1H774.7V291.0H779.1V293.8H783.5V300.8H787.9V295.9H792.3V286.1H796.7V282.2H801.1V296.8H805.5V316.1H809.9V318.4H814.3V313.9H818.7V291.1H823.1V285.4H827.5V268.5H831.8V267.5H836.2V266.8H840.6V265.8H845.0V260.5H849.4V250.4H853.8V252.0H858.2V252.2H862.6V274.7H867.0V278.2H871.4V280.2H875.8V257.4H880.2V248.5H884.6V250.1H889.0V246.6H893.4V243.9H897.8V241.3H902.2V239.2H906.6V244.4H911.0V260.1H915.4V271.2H919.8V261.1H924.2V251.3H928.6V243.8H937.4V245.5H941.8V249.5H946.2V251.2H950.6V252.2H955.0V251.3H959.4V262.7H963.8V283.4H968.2V290.2H972.6V275.3H977.0V262.1H981.4V254.7H985.8V252.2H990.2V252.5H994.6V257.5H999.0V262.4H1003.4V260.1H1007.8V255.9H1012.2V268.6H1016.6V275.8H1021.0V296.0H1025.4V281.3H1029.8V286.6H1034.2V274.3H1038.6V275.2H1043.0V277.1H1047.4V284.1H1051.8V286.1H1056.2V275.8H1060.6V262.5H1065.0V268.0H1069.4V281.3H1073.8V290.1H1078.2V284.9H1082.6V271.7H1087.0V262.9H1091.4V248.5H1095.8V255.2H1100.2V262.3H1104.6V259.9H1109.0V258.0H1113.4V252.3H1117.7V263.6H1122.1V298.7H1126.5V307.5H1130.9V301.6H1135.3V261.6H1139.7V253.7H1144.1V231.4H1148.5V228.7H1152.9V227.6H1157.3V219.7H1161.7V217.5H1166.1V197.6H1170.5V213.3H1174.9V232.1H1179.3V260.5H1183.7V259.7H1188.1V258.8H1192.5V234.3H1196.9V233.4H1205.7V234.3H1210.1V235.2H1214.5V235.7H1218.9V234.6H1223.3V235.2H1227.7V249.1H1232.1V263.2H1236.5V276.9H1240.9V251.7H1245.3V226.0H1249.7V208.1H1261.5V345.3Z" fill="#ff0000"/>
<path d="M107.5,345.3V334.1H114.9V334.8H119.3V335.4H136.9V334.8H141.3V333.3H145.7V331.9H150.1V330.6H154.5V329.3H158.9V328.9H163.3V328.5H167.7V330.9H172.1V331.3H176.5V329.4H180.9V327.0H185.3V325.1H189.7V324.7H194.1V320.8H198.5V320.3H202.9V320.0H211.7V320.5H216.1V322.2H220.5V329.9H224.9V330.8H229.3V330.2H233.7V327.9H238.1V327.2H242.5V326.3H246.9V321.9H251.3V319.7H255.6V318.4H260.0V318.0H264.4V317.8H268.8V318.1H273.2V324.0H277.6V322.0H282.0V319.3H286.4V316.5H290.8V314.9H295.2V315.3H299.6V311.8H304.0V314.1H308.4V318.1H312.8V323.1H317.2V324.2H321.6V324.7H326.0V328.8H330.4V326.9H334.8V324.1H339.2V325.1H343.6V326.6H348.0V326.9H352.4V325.3H356.8V326.4H361.2V327.4H365.6V327.5H370.0V327.3H374.4V327.0H378.8V329.5H383.2V330.3H387.6V331.2H392.0V330.9H396.4V332.0H400.8V331.8H405.2V331.3H409.6V330.6H418.4V331.1H422.8V328.9H427.2V325.6H431.6V329.2H436.0V329.4H444.8V327.8H449.2V326.7H453.6V326.6H462.4V325.8H466.8V327.2H471.2V326.8H475.6V327.1H480.0V329.1H484.4V332.2H488.8V333.1H493.2V331.4H497.6V330.9H502.0V332.2H506.4V333.3H510.8V335.2H515.2V337.1H519.6V339.0H524.0V340.9H528.4V342.7H532.8V343.4H545.9V342.6H550.3V339.8H554.7V334.9H559.1V329.6H563.5V324.7H567.9V325.8H572.3V328.9H576.7V333.1H581.1V331.3H585.5V329.4H589.9V336.7H594.3V337.8H603.1V333.4H607.5V331.5H611.9V331.3H616.3V330.3H620.7V331.3H625.1V332.2H633.9V332.7H638.3V332.3H642.7V339.0H647.1V337.9H651.5V339.7H655.9V338.6H660.3V335.9H664.7V335.0H669.1V335.9H673.5V336.8H677.9V337.6H682.3V338.7H686.7V339.7H691.1V336.1H695.5V340.5H699.9V341.6H704.3V341.7H708.7V334.1H713.1V330.6H717.5V327.9H721.9V324.2H726.3V325.2H730.7V327.2H735.1V329.0H739.5V328.5H743.9V328.1H748.3V334.2H752.7V336.8H757.1V331.7H761.5V320.9H765.9V316.3H770.3V317.1H774.7V318.0H779.1V321.9H783.5V323.6H787.9V325.5H792.3V321.8H796.7V319.2H801.1V322.9H805.5V327.2H809.9V326.2H814.3V317.8H818.7V316.9H827.5V316.0H831.8V318.5H836.2V320.0H840.6V320.2H845.0V315.0H849.4V312.4H853.8V318.9H858.2V320.5H862.6V324.2H867.0V318.4H871.4V317.8H875.8V313.2H880.2V308.6H884.6V312.3H889.0V314.1H893.4V317.6H897.8V314.5H902.2V311.5H906.6V318.3H911.0V320.6H915.4V318.9H919.8V304.3H924.2V300.0H928.6V300.1H933.0V302.8H937.4V304.5H941.8V307.7H946.2V310.3H950.6V307.5H955.0V305.6H959.4V317.8H968.2V315.8H972.6V303.8H977.0V305.7H981.4V306.7H985.8V307.5H990.2V306.6H994.6V307.6H999.0V308.3H1003.4V306.6H1007.8V308.8H1012.2V317.9H1016.6V319.7H1021.0V317.9H1025.4V302.9H1029.8V307.3H1034.2V309.2H1038.6V312.5H1043.0V316.0H1047.4V320.2H1051.8V323.1H1056.2V318.8H1060.6V316.0H1065.0V322.4H1069.4V321.6H1073.8V319.8H1078.2V307.4H1082.6V306.5H1087.0V305.6H1091.4V304.7H1095.8V307.6H1100.2V310.2H1104.6V309.5H1109.0V306.8H1113.4V302.0H1117.7V315.6H1122.1V312.9H1126.5V309.3H1130.9V308.8H1135.3V311.1H1139.7V315.7H1144.1V302.4H1148.5V297.1H1152.9V292.4H1157.3V288.9H1161.7V286.9H1166.1V285.7H1170.5V300.2H1174.9V302.2H1179.3V303.7H1183.7V297.2H1188.1V298.1H1192.5V297.1H1196.9V296.3H1201.3V302.5H1205.7V308.6H1210.1V319.5H1214.5V329.5H1218.9V335.2H1223.3V333.9H1227.7V331.9H1232.1V330.2H1236.5V327.9H1240.9V325.0H1245.3V322.4H1249.7V321.6H1254.1V322.5H1261.5V345.3Z" fill="#fbe5d6"/>
<path d="M107.5,345.3V341.6H114.9V341.0H119.3V340.7H123.7V340.9H128.1V341.1H132.5V341.4H136.9V340.9H141.3V339.2H145.7V337.7H150.1V337.3H154.5V336.9H158.9V336.7H163.3V336.5H167.7V336.7H172.1V336.6H176.5V335.9H180.9V335.4H185.3V334.8H189.7V334.1H194.1V331.4H198.5V330.5H202.9V329.8H211.7V330.0H216.1V331.0H220.5V335.3H224.9V336.9H229.3V337.5H233.7V336.9H238.1V335.4H242.5V333.8H246.9V330.2H251.3V328.9H255.6V328.6H260.0V329.1H264.4V329.6H268.8V330.2H273.2V333.7H277.6V333.2H282.0V331.4H286.4V330.1H290.8V329.1H295.2V328.5H299.6V324.1H304.0V326.3H308.4V330.0H312.8V334.4H317.2V335.2H321.6V335.4H326.0V336.7H330.4V336.9H339.2V336.3H343.6V335.9H348.0V335.4H352.4V334.1H356.8V334.5H361.2V335.0H365.6V334.5H370.0V333.9H374.4V333.4H378.8V335.1H383.2V336.0H387.6V337.7H392.0V338.3H396.4V338.7H400.8V338.3H405.2V337.9H409.6V337.8H414.0V338.0H418.4V338.3H422.8V338.1H427.2V337.8H440.4V338.3H444.8V337.9H449.2V337.3H453.6V336.9H458.0V336.0H462.4V338.3H466.8V339.1H471.2V339.6H475.6V339.7H493.2V340.0H497.6V339.9H502.0V339.1H506.4V338.3H510.8V338.0H515.2V338.3H519.6V339.4H524.0V341.4H528.4V343.3H532.8V344.0H545.9V343.6H550.3V342.9H554.7V338.7H559.1V337.9H563.5V330.8H567.9V330.9H572.3V334.1H576.7V339.7H585.5V338.8H589.9V341.5H594.3V341.6H598.7V342.4H603.1V342.5H607.5V340.0H611.9V338.8H620.7V339.7H633.9V340.2H638.3V340.6H642.7V341.5H647.1V340.7H651.5V342.1H655.9V341.4H660.3V337.7H664.7V336.9H669.1V337.8H673.5V338.3H677.9V338.7H682.3V339.6H686.7V340.2H691.1V339.7H695.5V341.0H699.9V342.1H708.7V334.1H713.1V330.6H717.5V327.9H721.9V324.2H726.3V325.2H730.7V327.2H735.1V329.0H739.5V328.5H743.9V328.1H748.3V334.2H752.7V336.8H757.1V331.7H761.5V320.9H765.9V316.3H770.3V317.1H774.7V318.0H779.1V321.9H783.5V323.6H787.9V325.5H792.3V321.8H796.7V319.2H801.1V322.9H805.5V327.2H809.9V326.2H814.3V317.8H818.7V316.9H827.5V316.0H831.8V318.5H836.2V320.0H840.6V320.2H845.0V315.0H849.4V312.4H853.8V318.9H858.2V320.5H862.6V324.2H867.0V318.4H871.4V317.8H875.8V313.2H880.2V308.6H884.6V312.3H889.0V314.1H893.4V317.6H897.8V314.5H902.2V311.5H906.6V318.3H911.0V320.6H915.4V320.2H919.8V305.6H924.2V301.3H928.6V301.4H933.0V304.1H937.4V305.8H941.8V309.0H946.2V311.6H950.6V308.8H955.0V306.9H959.4V319.1H968.2V317.1H972.6V305.1H977.0V307.0H981.4V308.0H985.8V308.8H990.2V307.9H994.6V308.9H999.0V309.6H1003.4V307.9H1007.8V310.1H1012.2V319.2H1016.6V319.7H1021.0V317.9H1025.4V302.9H1029.8V307.3H1034.2V309.2H1038.6V312.5H1043.0V316.0H1047.4V320.2H1051.8V323.1H1056.2V318.8H1060.6V316.0H1065.0V322.4H1069.4V321.6H1073.8V319.8H1078.2V307.4H1082.6V306.5H1087.0V305.6H1091.4V304.7H1095.8V307.6H1100.2V310.2H1104.6V309.5H1109.0V306.8H1113.4V302.0H1117.7V315.6H1122.1V312.9H1126.5V309.3H1130.9V308.8H1135.3V311.1H1139.7V315.7H1144.1V302.4H1148.5V298.4H1152.9V293.7H1157.3V290.2H1161.7V288.2H1166.1V287.0H1170.5V301.5H1174.9V303.5H1179.3V305.0H1183.7V298.5H1188.1V299.4H1192.5V298.4H1196.9V297.6H1201.3V303.8H1205.7V309.9H1210.1V320.8H1214.5V329.5H1218.9V335.2H1223.3V333.9H1227.7V331.9H1232.1V330.2H1236.5V327.9H1240.9V325.0H1245.3V322.4H1249.7V321.6H1254.1V322.5H1261.5V345.3Z" fill="#d0cece"/>
<path d="M107.5,345.3V344.0H114.9V343.8H119.3V343.6H141.3V343.4H145.7V343.3H154.5V343.2H158.9V343.1H163.3V342.9H180.9V342.7H185.3V342.5H194.1V341.6H198.5V340.9H202.9V340.3H238.1V340.0H242.5V339.7H255.6V339.8H260.0V340.1H264.4V340.3H277.6V339.7H282.0V339.2H286.4V338.9H290.8V338.5H295.2V337.9H299.6V336.6H304.0V337.4H308.4V338.1H312.8V338.7H317.2V339.2H321.6V339.7H339.2V339.4H343.6V339.0H348.0V338.7H352.4V338.3H356.8V337.8H361.2V337.3H365.6V336.8H370.0V336.4H374.4V336.0H378.8V336.6H383.2V337.8H387.6V339.1H392.0V339.6H396.4V340.2H400.8V339.8H405.2V339.2H409.6V338.9H418.4V339.1H422.8V339.0H427.2V338.8H436.0V339.1H440.4V339.6H444.8V339.2H449.2V338.5H453.6V337.8H458.0V338.3H462.4V339.5H466.8V340.5H471.2V340.9H475.6V341.3H484.4V340.6H497.6V340.3H502.0V339.7H506.4V339.1H510.8V338.8H515.2V339.4H519.6V340.4H524.0V342.0H528.4V343.8H532.8V344.3H537.2V344.4H545.9V344.0H554.7V339.7H559.1V339.2H563.5V339.1H567.9V339.9H572.3V340.9H576.7V341.6H581.1V342.5H585.5V342.9H589.9V343.4H594.3V344.0H607.5V343.0H611.9V340.8H616.3V340.3H620.7V341.0H625.1V341.5H629.5V341.6H633.9V342.0H638.3V342.5H642.7V343.4H651.5V344.0H655.9V342.8H660.3V340.6H664.7V339.7H669.1V340.2H673.5V340.3H677.9V340.6H682.3V341.0H686.7V341.6H695.5V342.1H699.9V342.9H704.3V343.4H708.7V342.5H713.1V341.6H721.9V342.1H726.3V343.4H730.7V344.3H735.1V344.7H739.5V344.8H765.9V344.0H770.3V343.5H774.7V344.6H779.1V344.8H796.7V345.0H809.9V344.9H814.3V344.0H818.7V343.5H827.5V344.0H831.8V344.7H836.2V345.0H875.8V343.5H880.2V343.1H897.8V342.8H915.4V342.2H919.8V341.6H924.2V341.2H928.6V340.9H937.4V341.2H941.8V341.6H959.4V340.9H963.8V339.3H968.2V338.3H972.6V336.6H977.0V337.2H981.4V338.0H985.8V339.0H990.2V339.4H994.6V339.8H999.0V340.3H1003.4V340.9H1007.8V341.3H1012.2V341.2H1016.6V340.9H1021.0V340.3H1025.4V339.0H1029.8V339.4H1034.2V340.2H1038.6V340.8H1043.0V340.9H1056.2V340.3H1060.6V338.4H1069.4V337.5H1073.8V337.1H1078.2V334.5H1082.6V331.9H1087.0V331.5H1091.4V332.3H1095.8V333.8H1100.2V334.7H1104.6V335.2H1109.0V335.6H1113.4V334.2H1117.7V336.0H1122.1V335.6H1126.5V334.4H1130.9V331.8H1135.3V331.0H1139.7V330.0H1144.1V328.0H1148.5V326.3H1152.9V327.3H1157.3V329.9H1161.7V333.7H1166.1V336.6H1170.5V336.5H1174.9V335.4H1179.3V333.3H1183.7V330.0H1188.1V328.2H1192.5V323.3H1196.9V322.1H1201.3V322.8H1205.7V323.9H1210.1V327.4H1214.5V333.9H1218.9V336.9H1223.3V336.1H1227.7V335.3H1232.1V334.2H1236.5V332.6H1240.9V329.4H1245.3V325.2H1249.7V324.4H1254.1V325.3H1261.5V345.3Z" fill="#92d050"/>
<path d="M1139.7,330.0L1144.1,330.0L1144.1,328.0L1148.5,328.0L1148.5,326.3L1152.9,326.3L1152.9,327.3L1157.3,327.3L1157.3,329.9L1161.7,329.9L1161.7,333.7L1166.1,333.7L1166.1,336.6L1170.5,336.6L1170.5,336.5L1174.9,336.5L1174.9,338.1L1170.5,338.1L1170.5,339.9L1166.1,339.9L1166.1,338.7L1161.7,338.7L1161.7,336.5L1157.3,336.5L1157.3,334.3L1152.9,334.3L1152.9,332.5L1148.5,332.5L1148.5,331.5L1144.1,331.5L1144.1,330.9L1139.7,330.9Z" fill="#ffc000"/>
<path d="M1025.4,345.3V343.7H1060.6V343.2H1065.0V342.2H1069.4V341.3H1073.8V340.8H1078.2V339.9H1082.6V338.5H1087.0V338.1H1091.4V338.5H1095.8V338.9H1100.2V339.6H1104.6V339.9H1109.0V340.0H1113.4V339.6H1122.1V339.4H1126.5V338.8H1130.9V338.4H1135.3V338.1H1144.1V338.5H1148.5V338.9H1152.9V340.0H1157.3V340.7H1166.1V340.3H1170.5V339.3H1174.9V338.0H1179.3V337.4H1183.7V336.6H1188.1V335.2H1192.5V333.7H1196.9V332.5H1201.3V332.8H1205.7V334.2H1210.1V335.4H1214.5V336.7H1218.9V337.5H1227.7V337.0H1232.1V336.6H1236.5V335.5H1240.9V333.4H1245.3V330.9H1249.7V330.1H1254.1V331.0H1261.5V345.3Z" fill="#264478"/>
<path d="M1025.4,345.3V344.6H1060.6V344.1H1065.0V343.1H1069.4V342.2H1073.8V341.7H1078.2V340.8H1082.6V339.4H1087.0V339.0H1091.4V339.4H1095.8V339.8H1100.2V340.5H1104.6V340.8H1109.0V340.9H1113.4V340.5H1122.1V340.3H1126.5V339.7H1130.9V339.3H1135.3V339.0H1144.1V339.4H1148.5V339.8H1152.9V340.9H1157.3V341.6H1166.1V341.2H1170.5V340.2H1174.9V338.9H1179.3V338.3H1183.7V337.5H1188.1V336.1H1192.5V334.6H1196.9V333.4H1201.3V333.7H1205.7V335.1H1210.1V336.3H1214.5V337.6H1218.9V338.4H1227.7V337.9H1232.1V337.5H1236.5V336.4H1240.9V334.3H1245.3V331.8H1249.7V331.0H1254.1V331.9H1261.5V345.3Z" fill="#ed7d31"/>
<rect x="110.5" y="343.7" width="709.5" height="1.6" fill="#bfbfbf" opacity="0.8"/>
<path d="M107.5,345.3V410.3H114.9V405.6H119.3V399.6H123.7V396.7H128.1V395.4H132.5V396.1H136.9V397.2H141.3V399.7H145.7V401.0H150.1V401.7H154.5V401.0H158.9V399.9H163.3V397.8H167.7V394.7H172.1V393.3H176.5V395.3H180.9V398.4H185.3V401.8H189.7V405.2H194.1V407.7H198.5V410.3H202.9V411.7H207.3V412.8H211.7V414.5H216.1V414.3H220.5V413.1H224.9V410.9H233.7V411.7H238.1V413.2H242.5V415.2H246.9V417.4H251.3V418.7H255.6V419.8H260.0V420.9H264.4V421.2H268.8V420.4H273.2V419.2H277.6V420.5H282.0V423.9H286.4V428.1H295.2V432.2H299.6V436.2H304.0V441.7H308.4V442.6H312.8V443.3H317.2V445.3H321.6V446.8H326.0V445.2H330.4V439.6H334.8V441.7H339.2V444.6H343.6V447.4H348.0V450.0H352.4V452.8H356.8V457.8H361.2V461.9H365.6V465.3H370.0V466.9H374.4V467.5H378.8V464.4H383.2V461.1H387.6V457.5H392.0V455.0H396.4V461.3H400.8V467.2H405.2V472.5H409.6V475.5H414.0V477.3H418.4V474.8H422.8V469.4H427.2V462.8H431.6V461.5H436.0V460.2H440.4V459.1H444.8V458.2H449.2V462.8H453.6V467.8H458.0V472.7H462.4V476.3H466.8V477.4H471.2V479.9H475.6V483.2H480.0V486.1H484.4V489.1H488.8V485.9H493.2V483.3H497.6V481.1H502.0V484.7H506.4V490.9H510.8V499.7H515.2V507.1H519.6V511.9H524.0V498.6H528.4V482.8H532.8V468.7H537.2V462.7H541.5V446.9H545.9V431.3H550.3V421.2H554.7V423.1H559.1V428.7H563.5V438.3H567.9V445.1H572.3V448.4H576.7V451.2H581.1V453.3H585.5V452.8H589.9V450.1H594.3V445.2H598.7V444.1H603.1V444.9H607.5V455.9H611.9V461.2H616.3V465.0H620.7V468.8H629.5V466.2H633.9V462.4H638.3V462.9H642.7V465.1H647.1V460.7H651.5V458.4H655.9V462.9H660.3V478.5H664.7V487.2H669.1V491.2H673.5V493.5H677.9V490.8H682.3V487.6H686.7V483.8H691.1V485.7H695.5V484.4H699.9V477.5H704.3V476.9H708.7V478.1H713.1V484.4H717.5V488.0H721.9V491.2H726.3V496.7H730.7V501.1H735.1V504.4H739.5V498.9H743.9V493.8H748.3V491.2H752.7V480.9H757.1V473.3H761.5V470.9H765.9V474.0H770.3V476.5H774.7V476.6H779.1V474.1H783.5V478.5H787.9V480.6H796.7V478.9H801.1V476.6H805.5V474.1H809.9V472.2H814.3V474.2H818.7V480.5H823.1V484.5H827.5V488.4H831.8V493.3H836.2V498.1H840.6V497.9H845.0V496.0H849.4V489.4H853.8V484.3H858.2V480.6H862.6V478.7H867.0V478.4H871.4V479.5H875.8V483.8H880.2V488.6H884.6V492.5H889.0V493.3H893.4V490.0H897.8V485.5H902.2V480.5H906.6V472.8H911.0V467.0H915.4V465.3H919.8V466.9H924.2V471.3H928.6V477.1H933.0V482.6H937.4V487.0H941.8V489.0H946.2V487.7H950.6V484.0H955.0V478.2H959.4V471.4H963.8V465.6H972.6V471.5H977.0V479.5H981.4V483.9H985.8V487.8H990.2V491.1H994.6V494.8H999.0V498.3H1003.4V495.5H1007.8V492.9H1012.2V490.4H1016.6V485.0H1021.0V479.4H1025.4V474.2H1029.8V479.8H1034.2V485.8H1038.6V491.9H1043.0V493.2H1047.4V494.8H1051.8V496.6H1056.2V497.2H1060.6V498.6H1065.0V499.1H1069.4V481.6H1073.8V475.9H1078.2V475.7H1082.6V480.8H1087.0V488.3H1091.4V492.5H1095.8V493.9H1100.2V498.3H1104.6V495.0H1109.0V486.1H1113.4V480.7H1117.7V475.2H1122.1V465.4H1126.5V461.9H1135.3V473.4H1139.7V475.0H1144.1V477.8H1148.5V488.5H1152.9V500.1H1157.3V507.2H1161.7V511.6H1166.1V512.7H1170.5V506.1H1174.9V494.7H1179.3V492.1H1183.7V494.9H1188.1V499.8H1192.5V502.3H1196.9V506.0H1201.3V513.7H1205.7V525.6H1210.1V525.8H1214.5V532.9H1218.9V530.6H1223.3V345.3Z" fill="#4f81bd"/>
<path d="M107.5,345.3V410.3H114.9V405.6H119.3V399.6H123.7V396.7H128.1V395.4H132.5V396.1H136.9V397.2H141.3V399.7H145.7V401.0H150.1V401.7H154.5V401.0H158.9V399.9H163.3V397.8H167.7V394.7H172.1V393.3H176.5V395.3H180.9V398.4H185.3V401.8H189.7V405.2H194.1V407.7H198.5V410.3H202.9V411.7H207.3V412.8H211.7V414.5H216.1V414.3H220.5V413.1H224.9V410.9H233.7V411.7H238.1V413.2H242.5V415.2H246.9V417.4H251.3V418.7H255.6V419.8H260.0V420.9H264.4V421.2H268.8V420.4H273.2V419.2H277.6V420.5H282.0V423.9H286.4V428.1H295.2V432.2H299.6V436.2H304.0V441.7H308.4V442.6H312.8V443.3H317.2V445.3H321.6V446.8H326.0V445.2H330.4V439.6H334.8V441.7H339.2V444.6H343.6V447.4H348.0V450.0H352.4V452.8H356.8V457.8H361.2V461.9H365.6V465.3H370.0V466.9H374.4V467.5H378.8V464.4H383.2V461.1H387.6V457.5H392.0V455.0H396.4V461.3H400.8V467.2H405.2V472.5H409.6V475.5H414.0V477.3H418.4V474.8H422.8V469.4H427.2V462.8H431.6V461.5H436.0V460.2H440.4V459.1H444.8V458.2H449.2V462.8H453.6V467.8H458.0V472.7H462.4V476.3H466.8V477.4H471.2V479.9H475.6V483.2H480.0V486.1H484.4V489.1H488.8V485.9H493.2V483.3H497.6V481.1H502.0V484.7H506.4V490.9H510.8V499.7H515.2V507.1H519.6V511.9H524.0V498.6H528.4V482.8H532.8V468.7H537.2V462.7H541.5V446.9H545.9V431.3H550.3V421.2H554.7V423.1H559.1V428.7H563.5V438.2H567.9V445.0H572.3V448.3H576.7V451.1H581.1V453.1H585.5V452.5H589.9V449.8H594.3V444.8H598.7V443.8H603.1V444.8H607.5V455.6H611.9V460.9H616.3V464.8H620.7V468.5H629.5V465.8H633.9V462.0H638.3V462.1H642.7V463.7H647.1V459.1H651.5V457.2H655.9V461.8H660.3V477.2H664.7V486.1H669.1V490.2H673.5V492.5H677.9V489.5H682.3V486.2H686.7V482.3H691.1V483.5H695.5V482.1H699.9V475.9H704.3V475.5H708.7V476.8H713.1V482.7H717.5V486.4H721.9V489.8H726.3V495.0H730.7V499.2H735.1V502.5H739.5V497.1H743.9V491.7H748.3V488.3H752.7V478.0H757.1V471.0H761.5V468.7H765.9V471.6H770.3V474.2H774.7V474.6H779.1V472.6H783.5V476.8H787.9V478.8H792.3V478.7H796.7V476.3H801.1V473.8H805.5V471.2H809.9V469.9H814.3V472.3H818.7V478.8H823.1V482.8H827.5V486.9H831.8V491.7H836.2V496.5H840.6V496.1H845.0V493.9H849.4V487.4H853.8V482.1H858.2V478.1H862.6V476.5H867.0V476.6H871.4V478.0H875.8V482.3H880.2V486.9H884.6V490.8H889.0V491.7H893.4V488.5H897.8V484.2H902.2V479.2H906.6V471.6H911.0V465.9H915.4V464.2H919.8V465.8H924.2V470.4H928.6V476.5H933.0V481.9H937.4V486.2H941.8V488.2H946.2V486.8H950.6V482.7H955.0V476.7H959.4V470.0H963.8V464.4H968.2V464.7H972.6V470.8H977.0V478.9H981.4V483.3H985.8V487.2H990.2V490.5H994.6V494.1H999.0V497.4H1003.4V494.7H1007.8V492.1H1012.2V489.6H1016.6V484.3H1021.0V478.9H1025.4V474.0H1029.8V479.6H1034.2V485.5H1038.6V491.5H1043.0V492.7H1047.4V494.2H1051.8V495.9H1056.2V496.6H1060.6V497.8H1065.0V498.2H1069.4V481.1H1073.8V475.6H1078.2V475.4H1082.6V480.6H1087.0V487.9H1091.4V492.2H1095.8V493.8H1100.2V498.0H1104.6V494.6H1109.0V485.2H1113.4V479.5H1117.7V474.0H1122.1V464.7H1126.5V461.3H1135.3V471.3H1139.7V472.7H1144.1V476.2H1148.5V487.8H1152.9V499.5H1157.3V506.7H1161.7V510.5H1166.1V511.0H1170.5V504.4H1174.9V492.7H1179.3V490.2H1183.7V493.3H1188.1V498.4H1192.5V501.1H1196.9V505.0H1201.3V512.7H1205.7V524.3H1214.5V531.0H1218.9V528.5H1223.3V345.3Z" fill="#d4a017"/>
<path d="M107.5,345.3V408.5H114.9V404.0H119.3V398.6H123.7V396.2H128.1V395.0H132.5V395.7H136.9V396.7H141.3V399.3H145.7V400.5H150.1V401.3H154.5V400.5H158.9V399.5H163.3V397.4H167.7V394.2H172.1V392.8H176.5V394.8H180.9V397.9H185.3V401.3H189.7V404.7H194.1V407.3H198.5V409.8H202.9V411.3H207.3V412.4H211.7V414.0H216.1V413.9H220.5V412.7H224.9V410.6H229.3V410.5H233.7V411.3H238.1V412.8H242.5V414.8H246.9V416.9H251.3V418.3H255.6V419.4H260.0V420.5H264.4V420.9H268.8V420.0H273.2V418.9H277.6V420.1H282.0V423.4H286.4V427.5H290.8V427.6H295.2V431.7H299.6V435.9H304.0V441.2H308.4V442.0H312.8V442.8H317.2V444.9H321.6V446.3H326.0V444.7H330.4V439.1H334.8V441.1H339.2V443.9H343.6V446.7H348.0V449.4H352.4V452.3H356.8V457.3H361.2V461.2H365.6V464.2H370.0V465.1H374.4V465.0H378.8V461.7H383.2V458.2H387.6V455.0H392.0V452.7H396.4V458.9H400.8V464.9H405.2V470.4H409.6V473.3H414.0V475.1H418.4V472.5H422.8V467.5H427.2V461.5H431.6V459.5H436.0V457.5H440.4V457.0H444.8V456.7H449.2V461.2H453.6V466.0H458.0V470.8H462.4V474.5H466.8V475.8H471.2V478.2H475.6V481.3H480.0V482.3H484.4V483.2H488.8V479.2H493.2V476.7H497.6V475.9H502.0V480.2H506.4V486.2H510.8V493.3H515.2V498.7H519.6V501.9H524.0V490.8H528.4V474.9H532.8V459.9H537.2V450.6H541.5V436.4H545.9V425.1H550.3V418.4H554.7V420.3H559.1V425.9H563.5V435.0H567.9V441.7H572.3V445.3H576.7V448.2H581.1V450.3H585.5V449.1H589.9V446.5H594.3V442.3H603.1V444.1H607.5V454.3H611.9V459.8H616.3V464.0H620.7V467.6H629.5V465.0H633.9V461.2H638.3V460.6H642.7V461.2H647.1V456.5H651.5V455.3H655.9V460.4H660.3V475.8H664.7V484.8H669.1V489.1H673.5V491.7H677.9V488.6H682.3V485.2H686.7V481.4H691.1V482.5H695.5V481.2H699.9V475.4H704.3V475.0H708.7V476.3H713.1V481.9H717.5V485.7H721.9V489.1H726.3V494.2H730.7V498.2H735.1V501.4H739.5V496.0H743.9V490.3H748.3V486.4H752.7V475.9H757.1V469.2H761.5V467.0H765.9V469.6H770.3V472.2H774.7V472.8H779.1V471.3H783.5V475.2H787.9V477.0H792.3V476.6H796.7V473.3H801.1V470.4H805.5V467.6H809.9V467.0H814.3V469.8H818.7V476.3H823.1V480.5H827.5V484.7H831.8V488.6H836.2V492.4H840.6V490.2H845.0V486.2H849.4V478.5H853.8V471.2H858.2V464.3H862.6V463.6H867.0V464.8H871.4V467.6H875.8V470.3H880.2V473.4H884.6V477.2H889.0V478.7H893.4V476.9H897.8V473.2H902.2V468.7H906.6V462.0H911.0V456.6H915.4V454.5H919.8V457.0H924.2V463.6H928.6V471.9H933.0V476.4H937.4V480.1H941.8V482.0H946.2V479.0H950.6V472.6H955.0V463.7H959.4V458.2H963.8V454.1H968.2V457.6H972.6V464.9H977.0V473.5H981.4V478.4H985.8V482.6H990.2V485.9H994.6V488.4H999.0V490.5H1003.4V488.2H1007.8V485.9H1012.2V483.4H1016.6V479.1H1021.0V475.4H1025.4V472.4H1029.8V477.5H1034.2V482.9H1038.6V488.4H1043.0V489.1H1047.4V489.4H1051.8V489.6H1056.2V491.4H1060.6V491.6H1065.0V489.8H1069.4V477.1H1073.8V472.7H1078.2V473.3H1082.6V478.9H1087.0V484.7H1091.4V489.3H1095.8V492.9H1100.2V495.7H1104.6V491.8H1109.0V480.1H1113.4V473.1H1117.7V468.4H1122.1V462.0H1126.5V459.3H1130.9V459.4H1135.3V466.0H1139.7V467.9H1144.1V473.2H1148.5V486.7H1152.9V498.7H1157.3V505.8H1161.7V508.8H1166.1V508.4H1170.5V501.8H1174.9V489.6H1179.3V487.4H1183.7V490.9H1188.1V496.4H1192.5V499.3H1196.9V503.4H1201.3V511.2H1205.7V522.3H1210.1V522.1H1214.5V528.2H1218.9V525.5H1223.3V345.3Z" fill="#fbe5d6"/>
<path d="M107.5,345.3V408.5H114.9V404.0H119.3V398.6H123.7V396.2H128.1V395.0H132.5V395.7H136.9V396.7H141.3V399.3H145.7V400.5H150.1V401.3H154.5V400.5H158.9V399.5H163.3V397.4H167.7V394.2H172.1V392.8H176.5V394.8H180.9V397.9H185.3V401.3H189.7V404.7H194.1V407.3H198.5V409.8H202.9V411.3H207.3V412.4H211.7V414.0H216.1V413.9H220.5V412.7H224.9V410.6H229.3V410.5H233.7V411.3H238.1V412.8H242.5V414.8H246.9V416.9H251.3V418.3H255.6V419.4H260.0V420.5H264.4V420.9H268.8V420.0H273.2V418.9H277.6V420.1H282.0V423.4H286.4V427.5H290.8V427.6H295.2V431.7H299.6V435.9H304.0V441.2H308.4V442.0H312.8V442.8H317.2V444.9H321.6V446.3H326.0V444.7H330.4V439.1H334.8V441.1H339.2V443.9H343.6V446.7H348.0V449.4H352.4V452.3H356.8V457.3H361.2V461.2H365.6V464.2H370.0V465.1H374.4V465.0H378.8V461.7H383.2V458.2H387.6V455.0H392.0V452.7H396.4V458.9H400.8V464.9H405.2V470.4H409.6V473.3H414.0V475.1H418.4V472.5H422.8V467.5H427.2V461.5H431.6V459.5H436.0V457.5H440.4V457.0H444.8V456.7H449.2V461.2H453.6V466.0H458.0V470.8H462.4V474.5H466.8V475.8H471.2V478.2H475.6V481.3H480.0V482.3H484.4V483.2H488.8V479.2H493.2V476.7H497.6V475.9H502.0V480.2H506.4V486.2H510.8V493.3H515.2V498.7H519.6V501.9H524.0V490.8H528.4V474.9H532.8V459.9H537.2V450.6H541.5V436.4H545.9V425.1H550.3V418.4H554.7V420.3H559.1V425.9H563.5V434.9H567.9V441.4H572.3V445.0H576.7V447.8H581.1V449.7H585.5V448.2H589.9V445.5H594.3V441.4H598.7V441.6H603.1V443.7H607.5V453.5H611.9V459.0H616.3V463.4H620.7V466.8H625.1V466.6H629.5V464.0H633.9V460.2H638.3V458.3H642.7V456.7H647.1V450.9H651.5V450.6H655.9V456.4H660.3V470.8H664.7V479.8H669.1V484.4H673.5V487.1H677.9V482.7H682.3V478.2H686.7V473.5H691.1V471.2H695.5V468.9H699.9V466.7H704.3V467.6H708.7V469.1H713.1V472.2H717.5V476.7H721.9V481.3H726.3V484.6H730.7V487.7H735.1V490.4H739.5V485.4H743.9V478.1H748.3V469.4H752.7V458.4H757.1V455.1H761.5V453.7H765.9V454.4H770.3V457.5H774.7V460.0H779.1V461.9H783.5V464.4H787.9V465.0H792.3V463.6H796.7V455.3H801.1V450.9H805.5V447.0H809.9V450.5H814.3V456.1H818.7V463.6H823.1V468.5H827.5V473.4H831.8V477.8H836.2V482.2H840.6V479.4H845.0V475.4H849.4V468.8H853.8V462.0H858.2V455.4H862.6V457.3H867.0V460.5H871.4V464.9H875.8V468.4H880.2V471.7H884.6V475.6H889.0V477.1H893.4V475.5H897.8V471.9H902.2V467.4H906.6V460.8H911.0V455.6H915.4V453.4H919.8V456.0H924.2V462.8H928.6V471.4H933.0V475.8H937.4V479.5H941.8V481.4H946.2V478.2H950.6V471.5H955.0V462.4H959.4V457.0H963.8V453.1H968.2V456.9H972.6V464.4H977.0V473.0H981.4V478.0H985.8V482.2H990.2V485.5H994.6V487.9H999.0V489.9H1003.4V487.7H1007.8V485.4H1012.2V482.9H1016.6V478.7H1021.0V475.1H1025.4V472.3H1029.8V477.3H1034.2V482.7H1038.6V488.1H1043.0V488.8H1047.4V489.1H1051.8V489.2H1056.2V491.0H1060.6V491.2H1065.0V489.2H1069.4V476.9H1073.8V472.5H1078.2V473.2H1082.6V478.8H1087.0V484.5H1091.4V489.2H1095.8V492.9H1100.2V495.5H1104.6V491.4H1109.0V479.0H1113.4V471.3H1117.7V466.4H1122.1V460.8H1126.5V458.1H1135.3V461.4H1139.7V462.6H1144.1V469.2H1148.5V485.0H1152.9V497.3H1157.3V504.4H1161.7V505.9H1166.1V504.2H1170.5V497.6H1174.9V484.6H1179.3V482.6H1183.7V487.0H1188.1V493.0H1192.5V496.3H1196.9V500.7H1201.3V508.7H1205.7V519.0H1210.1V518.3H1214.5V523.6H1218.9V520.4H1223.3V345.3Z" fill="#d9d9d9"/>
<rect x="1223.3" y="534.6" width="4.45" height="19.0" fill="#d0cece"/>
<rect x="1223.3" y="553.6" width="4.45" height="3.9" fill="#fbe5d6"/>
<rect x="1223.3" y="557.5" width="4.45" height="3.2" fill="#bf9000"/>
<rect x="1227.7" y="529.0" width="4.45" height="23.9" fill="#d0cece"/>
<rect x="1227.7" y="552.9" width="4.45" height="3.9" fill="#f1975a"/>
<rect x="1227.7" y="556.8" width="4.45" height="2.0" fill="#bf9000"/>
<rect x="1232.1" y="545.1" width="4.45" height="25.9" fill="#d0cece"/>
<rect x="1232.1" y="571.0" width="4.45" height="3.9" fill="#fbe5d6"/>
<rect x="1232.1" y="574.9" width="4.45" height="1.3" fill="#f1975a"/>
<rect x="1236.5" y="541.6" width="4.45" height="28.1" fill="#d0cece"/>
<rect x="1236.5" y="569.7" width="4.45" height="0.7" fill="#264478"/>
<rect x="1240.9" y="551.0" width="4.45" height="34.9" fill="#d0cece"/>
<rect x="1240.9" y="585.9" width="4.45" height="12.2" fill="#fbe5d6"/>
<rect x="1240.9" y="598.1" width="4.45" height="2.2" fill="#f1975a"/>
<rect x="1245.3" y="548.3" width="4.45" height="35.6" fill="#d0cece"/>
<rect x="1245.3" y="583.9" width="4.45" height="14.9" fill="#fbe5d6"/>
<rect x="1245.3" y="598.8" width="4.45" height="1.9" fill="#f1975a"/>
<rect x="1245.3" y="600.7" width="4.45" height="1.3" fill="#2f5597"/>
<rect x="1249.7" y="549.6" width="4.45" height="35.6" fill="#d0cece"/>
<rect x="1249.7" y="585.2" width="4.45" height="17.5" fill="#fbe5d6"/>
<rect x="1249.7" y="602.7" width="4.45" height="3.2" fill="#f1975a"/>
<rect x="1249.7" y="605.9" width="4.45" height="3.2" fill="#2f5597"/>
<rect x="1254.1" y="550.5" width="4.45" height="47.0" fill="#d0cece"/>
<rect x="1254.1" y="597.5" width="4.45" height="17.4" fill="#fbe5d6"/>
<rect x="1254.1" y="614.9" width="4.45" height="5.8" fill="#f1975a"/>
<rect x="1254.1" y="620.7" width="4.45" height="5.0" fill="#2f5597"/>
<rect x="282.0" y="422.1" width="4.40" height="4.0" fill="#ff0000"/>
<rect x="286.4" y="426.0" width="4.40" height="4.0" fill="#ff0000"/>
<rect x="290.8" y="426.4" width="4.40" height="4.0" fill="#ff0000"/>
<path d="M1223.3,345.3V535.6H1227.7V530.0H1232.1V546.1H1236.5V542.6H1240.9V552.0H1245.3V549.3H1249.7V550.6H1254.1V551.5H1261.5V345.3Z" fill="#ffc000"/>
<path d="M107.5,345.3V408.4H114.9V403.9H119.3V398.5H123.7V396.2H128.1V395.0H132.5V395.7H136.9V396.7H141.3V399.2H145.7V400.4H150.1V401.2H154.5V400.5H158.9V399.4H163.3V397.3H167.7V394.1H172.1V392.7H176.5V394.6H180.9V397.8H185.3V401.2H189.7V404.5H194.1V407.1H198.5V409.6H202.9V411.1H207.3V412.3H211.7V413.8H216.1V413.7H220.5V412.5H224.9V410.4H229.3V410.3H233.7V411.0H238.1V412.5H242.5V414.5H246.9V416.6H251.3V418.0H255.6V419.1H260.0V420.2H264.4V420.5H268.8V419.6H273.2V418.5H277.6V419.6H282.0V422.6H286.4V426.5H290.8V426.9H295.2V431.0H299.6V435.2H304.0V440.3H308.4V441.0H312.8V441.8H317.2V443.8H321.6V444.9H326.0V443.3H330.4V437.6H334.8V439.0H339.2V441.8H343.6V444.6H348.0V447.7H352.4V450.9H356.8V455.9H361.2V459.2H365.6V461.2H370.0V460.8H374.4V459.2H378.8V455.4H383.2V451.9H387.6V449.2H392.0V447.5H396.4V453.8H400.8V460.1H405.2V466.0H409.6V468.9H414.0V470.7H418.4V468.2H422.8V464.0H427.2V459.1H431.6V456.0H436.0V452.9H440.4V453.4H444.8V454.3H449.2V458.6H453.6V463.1H458.0V468.0H462.4V471.8H466.8V473.4H471.2V475.8H475.6V478.5H480.0V477.0H484.4V475.0H488.8V470.0H493.2V468.1H497.6V469.2H502.0V474.4H506.4V480.3H510.8V485.3H515.2V488.5H519.6V490.0H524.0V481.7H528.4V465.9H532.8V450.1H537.2V437.4H541.5V425.1H545.9V418.5H550.3V415.6H554.7V417.4H559.1V423.1H563.5V431.6H567.9V437.9H572.3V441.8H576.7V444.6H581.1V446.5H585.5V444.3H589.9V441.5H594.3V438.2H598.7V439.6H603.1V442.8H607.5V451.6H611.9V457.4H616.3V462.2H620.7V465.3H625.1V465.1H629.5V462.4H633.9V458.6H638.3V455.3H642.7V451.8H647.1V445.9H651.5V447.1H655.9V453.9H660.3V468.2H664.7V477.7H669.1V482.7H673.5V485.9H677.9V481.5H682.3V477.1H686.7V472.7H691.1V470.5H695.5V468.6H699.9V466.7H704.3V467.6H708.7V469.1H713.1V472.2H717.5V476.7H721.9V481.3H726.3V484.6H730.7V487.7H735.1V490.4H739.5V485.4H743.9V478.1H748.3V469.4H752.7V458.4H757.1V455.1H761.5V453.7H765.9V454.4H770.3V457.5H774.7V460.0H779.1V461.9H783.5V464.4H787.9V465.0H792.3V463.6H796.7V455.3H801.1V450.9H805.5V447.0H809.9V450.5H814.3V456.1H818.7V463.6H823.1V468.5H827.5V473.4H831.8V477.8H836.2V482.2H840.6V479.4H845.0V475.4H849.4V468.8H853.8V462.0H858.2V455.4H862.6V457.3H867.0V460.5H871.4V464.9H875.8V468.4H880.2V471.7H884.6V475.6H889.0V477.1H893.4V475.5H897.8V471.9H902.2V467.4H906.6V460.8H911.0V455.6H915.4V453.4H919.8V456.0H924.2V462.8H928.6V471.4H933.0V475.8H937.4V479.5H941.8V481.4H946.2V478.2H950.6V471.5H955.0V462.4H959.4V457.0H963.8V453.1H968.2V456.9H972.6V464.4H977.0V473.0H981.4V478.0H985.8V482.2H990.2V485.5H994.6V487.9H999.0V489.9H1003.4V487.7H1007.8V485.4H1012.2V482.9H1016.6V478.7H1021.0V475.1H1025.4V472.3H1029.8V477.3H1034.2V482.7H1038.6V488.1H1043.0V488.8H1047.4V489.1H1051.8V489.2H1056.2V491.0H1060.6V491.2H1065.0V489.2H1069.4V476.9H1073.8V472.5H1078.2V473.2H1082.6V478.8H1087.0V484.5H1091.4V489.2H1095.8V492.9H1100.2V495.5H1104.6V491.4H1109.0V479.0H1113.4V471.3H1117.7V466.4H1122.1V460.8H1126.5V458.1H1135.3V461.4H1139.7V462.6H1144.1V469.2H1148.5V485.0H1152.9V497.3H1157.3V504.4H1161.7V505.9H1166.1V504.2H1170.5V497.6H1174.9V484.6H1179.3V482.6H1183.7V487.0H1188.1V493.0H1192.5V496.3H1196.9V500.7H1201.3V508.7H1205.7V519.0H1210.1V518.3H1214.5V523.6H1218.9V520.4H1223.3V534.0H1227.7V528.4H1232.1V544.5H1236.5V541.0H1240.9V550.4H1245.3V547.7H1249.7V549.0H1254.1V549.9H1261.5V345.3Z" fill="#c55a11"/>
<path d="M107.5,345.3V405.2H114.9V401.0H119.3V396.7H123.7V395.3H128.1V394.3H132.5V394.9H136.9V395.9H141.3V398.4H145.7V399.6H150.1V400.2H154.5V399.6H158.9V398.6H163.3V396.5H167.7V393.2H172.1V391.7H176.5V393.5H180.9V396.7H185.3V400.1H189.7V403.2H194.1V405.9H198.5V408.4H202.9V410.0H207.3V411.3H211.7V412.5H220.5V411.6H224.9V409.5H229.3V409.3H233.7V409.8H238.1V411.2H242.5V413.2H246.9V415.3H251.3V416.8H255.6V418.0H260.0V418.9H264.4V419.2H268.8V418.3H273.2V417.3H277.6V418.0H282.0V420.3H286.4V423.5H290.8V424.7H295.2V429.1H299.6V433.5H304.0V437.8H308.4V438.3H312.8V439.2H317.2V441.0H321.6V441.7H326.0V440.1H330.4V434.2H334.8V434.5H339.2V436.6H343.6V439.2H348.0V443.1H352.4V447.1H356.8V451.5H361.2V454.8H365.6V457.3H370.0V456.7H374.4V454.5H378.8V451.3H383.2V448.1H387.6V445.5H392.0V443.6H396.4V448.7H400.8V454.8H405.2V461.2H409.6V463.7H414.0V465.1H418.4V462.6H422.8V458.4H427.2V453.4H431.6V450.3H436.0V447.3H440.4V447.7H444.8V448.7H449.2V452.4H453.6V456.5H458.0V461.4H462.4V465.1H466.8V466.2H471.2V468.6H475.6V471.9H480.0V469.9H484.4V467.5H488.8V463.1H493.2V461.8H497.6V463.4H502.0V468.3H506.4V473.8H510.8V478.8H515.2V481.0H519.6V482.3H524.0V479.6H528.4V458.5H532.8V446.0H537.2V433.7H541.5V421.4H545.9V415.3H550.3V412.4H554.7V413.0H559.1V417.8H563.5V425.9H567.9V432.0H572.3V435.3H576.7V438.6H581.1V440.8H585.5V438.6H589.9V436.2H594.3V433.4H598.7V434.5H603.1V437.2H607.5V445.2H611.9V450.8H616.3V455.5H620.7V458.1H625.1V457.9H629.5V455.8H633.9V452.1H638.3V447.5H642.7V442.5H647.1V437.4H651.5V438.7H655.9V444.4H660.3V455.9H664.7V464.0H669.1V469.6H673.5V473.9H677.9V472.3H682.3V469.6H686.7V465.2H691.1V463.0H695.5V460.9H699.9V458.4H704.3V459.6H708.7V461.6H713.1V464.7H717.5V468.3H721.9V472.5H726.3V477.9H730.7V481.2H735.1V482.3H739.5V476.9H743.9V469.7H748.3V461.2H752.7V450.9H757.1V445.7H761.5V443.7H765.9V445.0H770.3V448.1H774.7V451.2H779.1V454.4H783.5V456.3H787.9V455.9H792.3V453.3H796.7V445.9H801.1V441.5H805.5V437.6H809.9V442.3H814.3V448.6H818.7V456.1H823.1V461.0H827.5V465.8H831.8V468.9H836.2V472.0H840.6V469.6H845.0V466.1H849.4V460.1H853.8V453.9H858.2V447.9H862.6V449.8H867.0V452.7H871.4V456.5H875.8V460.4H880.2V464.2H884.6V467.5H889.0V468.9H893.4V467.8H897.8V464.4H902.2V459.9H906.6V453.3H911.0V448.1H915.4V445.9H919.8V448.5H924.2V455.3H928.6V463.9H933.0V468.3H937.4V472.2H941.8V474.9H946.2V472.3H950.6V465.6H955.0V455.8H959.4V450.5H963.8V446.5H968.2V450.3H972.6V457.8H977.0V466.3H981.4V470.1H985.8V473.7H990.2V477.0H994.6V479.9H999.0V482.4H1003.4V480.2H1007.8V477.6H1012.2V474.5H1016.6V469.7H1021.0V466.1H1025.4V463.9H1029.8V469.5H1034.2V475.2H1038.6V480.7H1043.0V483.2H1047.4V485.1H1051.8V486.3H1056.2V486.9H1060.6V486.1H1065.0V483.7H1069.4V474.1H1073.8V468.4H1078.2V468.8H1082.6V475.1H1087.0V480.1H1091.4V484.5H1095.8V488.2H1100.2V491.8H1104.6V487.6H1109.0V475.3H1113.4V466.7H1117.7V460.8H1122.1V455.1H1126.5V452.5H1130.9V451.6H1135.3V455.7H1139.7V459.3H1144.1V464.9H1148.5V480.3H1152.9V492.6H1157.3V499.0H1161.7V500.8H1166.1V499.5H1170.5V492.9H1174.9V479.9H1179.3V477.1H1183.7V481.4H1188.1V488.0H1192.5V492.1H1196.9V496.3H1201.3V502.9H1205.7V512.5H1210.1V512.7H1214.5V517.9H1218.9V514.7H1223.3V523.9H1227.7V519.2H1232.1V531.1H1236.5V535.4H1240.9V540.0H1245.3V532.7H1249.7V532.2H1261.5V345.3Z" fill="#ffc000"/>
<path d="M107.5,345.3V400.9H114.9V397.3H119.3V394.4H123.7V394.1H128.1V393.5H132.5V394.0H136.9V394.8H141.3V397.4H145.7V398.4H150.1V399.0H154.5V398.5H158.9V397.6H163.3V395.4H167.7V391.9H172.1V390.5H176.5V392.0H180.9V395.3H185.3V398.6H189.7V401.6H194.1V404.5H198.5V406.7H202.9V408.7H207.3V410.1H211.7V411.0H216.1V411.1H220.5V410.5H224.9V408.4H229.3V407.9H233.7V408.2H238.1V409.5H242.5V411.5H246.9V413.6H251.3V415.2H255.6V416.6H260.0V417.3H264.4V417.5H268.8V416.6H273.2V415.7H277.6V415.9H282.0V417.3H286.4V419.8H290.8V422.0H295.2V426.5H299.6V431.2H304.0V434.6H308.4V434.9H312.8V435.8H317.2V437.5H326.0V435.8H330.4V429.7H334.8V430.7H339.2V432.9H343.6V435.4H348.0V439.4H352.4V443.3H356.8V447.1H361.2V450.1H365.6V452.6H370.0V452.4H374.4V450.7H378.8V447.0H383.2V443.5H387.6V441.3H392.0V439.8H396.4V444.2H400.8V449.4H405.2V454.7H409.6V457.7H414.0V459.6H418.4V457.7H422.8V453.7H427.2V448.7H431.6V444.8H436.0V440.8H440.4V442.0H444.8V444.0H449.2V446.7H453.6V449.5H458.0V452.4H462.4V454.9H466.8V456.6H471.2V459.2H475.6V462.5H480.0V460.1H484.4V457.2H488.8V453.4H493.2V452.4H497.6V454.1H502.0V455.9H506.4V458.8H510.8V463.8H515.2V465.1H519.6V464.4H524.0V453.9H528.4V445.1H532.8V432.9H537.2V421.4H541.5V412.9H545.9V408.8H550.3V406.7H554.7V407.4H559.1V410.4H563.5V415.9H567.9V420.7H572.3V424.0H576.7V427.3H581.1V429.5H585.5V426.7H589.9V423.4H594.3V419.6H598.7V421.3H603.1V424.9H607.5V432.3H611.9V437.2H616.3V441.5H620.7V444.0H625.1V443.9H629.5V441.9H633.9V438.7H638.3V435.6H642.7V432.2H647.1V427.1H651.5V428.4H655.9V433.1H660.3V441.6H664.7V446.8H669.1V451.3H673.5V455.1H677.9V452.3H682.3V449.2H686.7V445.4H691.1V442.8H695.5V440.7H699.9V439.5H704.3V440.9H708.7V442.8H713.1V446.0H717.5V448.7H721.9V451.5H726.3V455.3H730.7V458.0H735.1V459.7H739.5V457.0H743.9V449.9H748.3V437.9H752.7V432.0H757.1V427.6H761.5V425.6H765.9V426.2H770.3V429.4H774.7V433.1H779.1V437.5H783.5V440.7H787.9V441.5H792.3V440.2H796.7V434.4H801.1V429.9H805.5V425.5H809.9V429.6H814.3V435.1H818.7V442.1H823.1V445.5H827.5V449.0H831.8V452.5H836.2V456.0H840.6V452.2H845.0V447.8H849.4V443.4H853.8V440.3H858.2V438.5H862.6V439.7H867.0V441.5H871.4V443.7H875.8V446.3H880.2V449.2H884.6V452.5H889.0V454.1H893.4V453.6H897.8V450.7H902.2V446.8H906.6V440.8H911.0V437.2H915.4V439.4H919.8V442.5H924.2V446.9H928.6V452.7H933.0V457.1H937.4V461.0H941.8V463.5H946.2V459.1H950.6V452.6H955.0V444.6H959.4V438.7H963.8V434.7H968.2V441.0H972.6V445.6H977.0V449.3H981.4V452.6H985.8V455.9H990.2V459.2H994.6V462.5H999.0V465.5H1003.4V463.9H1007.8V461.3H1012.2V456.9H1016.6V451.2H1021.0V448.1H1025.4V447.0H1029.8V451.4H1034.2V455.8H1038.6V460.1H1043.0V463.2H1047.4V465.7H1051.8V467.5H1056.2V468.2H1060.6V467.4H1065.0V465.1H1069.4V457.2H1073.8V452.2H1078.2V452.6H1082.6V458.2H1087.0V463.2H1091.4V467.9H1095.8V472.3H1100.2V474.9H1104.6V469.0H1109.0V463.8H1113.4V455.5H1117.7V446.2H1122.1V439.4H1130.9V443.8H1135.3V450.6H1139.7V455.4H1144.1V463.3H1148.5V475.3H1152.9V484.6H1157.3V489.1H1166.1V486.6H1170.5V480.7H1174.9V464.2H1179.3V461.2H1183.7V469.2H1188.1V475.4H1192.5V480.0H1196.9V484.4H1201.3V488.7H1205.7V492.0H1210.1V493.7H1214.5V491.9H1218.9V489.3H1223.3V496.2H1227.7V494.8H1232.1V506.7H1236.5V509.0H1240.9V512.0H1245.3V505.5H1249.7V501.6H1254.1V499.4H1261.5V345.3Z" fill="#002060"/>
<path d="M107.5,345.3V394.4H114.9V391.2H119.3V388.6H123.7V388.0H128.1V386.9H132.5V387.1H136.9V387.6H141.3V390.3H145.7V391.4H150.1V392.0H154.5V391.4H158.9V390.5H163.3V388.4H167.7V384.5H172.1V383.3H176.5V384.3H180.9V389.7H185.3V393.2H189.7V395.4H194.1V397.6H198.5V400.2H202.9V401.5H207.3V401.9H220.5V401.3H224.9V398.6H229.3V397.9H233.7V399.2H238.1V401.1H242.5V402.8H246.9V404.0H251.3V405.3H255.6V406.6H264.4V406.2H268.8V405.4H273.2V403.3H282.0V404.8H286.4V406.3H290.8V409.3H295.2V413.3H299.6V417.1H304.0V420.9H308.4V421.4H312.8V422.3H317.2V424.0H326.0V422.3H330.4V418.6H334.8V418.4H339.2V420.5H343.6V422.8H348.0V425.4H352.4V428.1H356.8V431.2H361.2V434.5H365.6V437.9H370.0V438.1H374.4V436.5H378.8V432.2H383.2V428.6H387.6V427.8H392.0V427.4H396.4V431.1H400.8V435.3H405.2V439.4H409.6V441.7H414.0V443.2H418.4V442.0H422.8V437.9H427.2V432.6H431.6V428.6H436.0V424.7H440.4V424.6H444.8V425.1H449.2V428.8H453.6V432.4H458.0V435.3H462.4V437.5H466.8V438.0H471.2V438.9H475.6V440.0H480.0V437.0H484.4V433.5H488.8V430.4H493.2V429.4H497.6V430.5H502.0V434.8H506.4V439.6H510.8V444.0H515.2V445.7H519.6V446.3H524.0V442.4H528.4V432.8H532.8V422.2H537.2V410.9H541.5V400.9H545.9V394.4H550.3V390.6H554.7V391.2H559.1V393.7H563.5V399.4H567.9V404.9H572.3V408.8H576.7V409.2H581.1V409.0H585.5V407.9H589.9V406.0H594.3V403.2H598.7V345.3Z" fill="#f1975a"/>
<path d="M598.7,345.3V404.1H603.1V406.0H607.5V411.9H611.9V417.0H616.3V421.8H620.7V424.3H625.1V424.5H629.5V423.1H633.9V419.9H638.3V417.2H642.7V414.8H647.1V413.3H651.5V414.2H655.9V416.8H660.3V421.9H664.7V427.1H669.1V430.3H673.5V432.7H677.9V431.0H682.3V429.0H686.7V426.5H691.1V425.7H695.5V424.0H699.9V420.9H704.3V420.1H708.7V420.4H713.1V424.2H717.5V427.1H721.9V429.5H726.3V431.7H730.7V432.2H735.1V431.1H739.5V428.4H743.9V425.1H748.3V420.8H752.7V414.2H757.1V413.4H761.5V415.2H765.9V419.6H770.3V422.2H774.7V424.7H779.1V427.2H783.5V428.4H787.9V427.1H792.3V423.3H796.7V418.4H801.1V416.1H805.5V414.1H809.9V416.5H814.3V420.2H818.7V425.2H823.1V427.2H827.5V429.2H831.8V431.4H836.2V433.6H840.6V431.2H845.0V428.6H849.4V426.4H853.8V423.3H858.2V419.7H862.6V420.3H867.0V422.1H871.4V424.8H875.8V428.0H880.2V431.3H884.6V434.0H889.0V434.9H893.4V433.3H897.8V431.2H902.2V429.0H906.6V425.2H911.0V421.5H915.4V418.2H919.8V418.6H924.2V422.3H928.6V427.3H933.0V431.2H937.4V434.0H941.8V434.5H946.2V432.0H950.6V429.9H955.0V427.9H959.4V424.4H963.8V421.5H968.2V420.8H972.6V424.0H977.0V428.7H981.4V432.0H985.8V434.3H990.2V435.4H994.6V436.5H999.0V437.5H1007.8V436.6H1012.2V434.1H1016.6V430.6H1021.0V427.7H1025.4V425.4H1029.8V430.4H1034.2V435.4H1038.6V440.4H1043.0V444.2H1047.4V446.9H1051.8V448.7H1056.2V447.4H1060.6V444.4H1065.0V439.8H1069.4V432.8H1073.8V429.0H1078.2V430.4H1082.6V436.6H1087.0V441.0H1091.4V443.8H1095.8V445.0H1100.2V445.9H1104.6V442.5H1109.0V438.2H1113.4V433.4H1117.7V428.5H1122.1V424.2H1126.5V421.6H1130.9V424.2H1135.3V432.6H1139.7V439.1H1144.1V445.2H1148.5V451.7H1152.9V456.4H1157.3V457.2H1161.7V456.7H1166.1V455.1H1170.5V450.7H1174.9V445.4H1179.3V445.8H1183.7V448.2H1188.1V452.9H1192.5V458.0H1196.9V462.9H1201.3V467.0H1205.7V469.3H1210.1V468.5H1214.5V469.3H1218.9V345.3Z" fill="#b7b7b7"/>
<path d="M598.7,345.3V401.3H603.1V403.2H607.5V409.1H611.9V414.2H616.3V419.0H620.7V421.5H625.1V421.7H629.5V420.3H633.9V417.1H638.3V414.4H642.7V412.0H647.1V410.5H651.5V411.4H655.9V414.0H660.3V419.1H664.7V424.3H669.1V427.5H673.5V429.9H677.9V428.2H682.3V426.2H686.7V423.7H691.1V422.9H695.5V421.2H699.9V418.1H704.3V417.3H708.7V417.6H713.1V421.4H717.5V424.3H721.9V426.7H726.3V430.2H730.7V430.7H735.1V429.6H739.5V426.9H743.9V423.6H748.3V419.3H752.7V412.7H757.1V411.9H761.5V412.4H765.9V416.8H770.3V419.4H774.7V421.9H779.1V424.4H783.5V425.6H787.9V424.3H792.3V420.5H796.7V415.6H801.1V413.3H805.5V411.3H809.9V413.7H814.3V417.4H818.7V422.4H823.1V424.4H827.5V426.4H831.8V428.6H836.2V432.1H840.6V429.7H845.0V427.1H849.4V424.9H853.8V421.8H858.2V418.2H862.6V418.8H867.0V420.6H871.4V422.0H875.8V425.2H880.2V428.5H884.6V431.2H889.0V432.1H893.4V430.5H897.8V429.7H902.2V427.5H906.6V423.7H911.0V420.0H915.4V416.7H919.8V417.1H924.2V420.8H928.6V425.8H933.0V429.7H937.4V431.2H941.8V431.7H946.2V429.2H950.6V427.1H955.0V425.1H959.4V421.6H963.8V418.7H968.2V418.0H972.6V421.2H977.0V425.9H981.4V429.2H985.8V432.8H990.2V433.9H994.6V435.0H999.0V436.0H1003.4V434.7H1007.8V433.8H1012.2V431.3H1016.6V427.8H1021.0V424.9H1025.4V422.6H1029.8V427.6H1034.2V432.6H1038.6V437.6H1043.0V441.4H1047.4V444.1H1051.8V445.9H1056.2V444.6H1060.6V441.6H1065.0V437.0H1069.4V430.0H1073.8V426.2H1078.2V427.6H1082.6V433.8H1087.0V438.2H1091.4V441.0H1095.8V442.2H1100.2V443.1H1104.6V439.7H1109.0V435.4H1113.4V430.6H1117.7V425.7H1122.1V421.4H1126.5V418.8H1130.9V421.4H1135.3V429.8H1139.7V436.3H1144.1V442.4H1148.5V448.9H1152.9V453.6H1157.3V454.4H1161.7V453.9H1166.1V452.3H1170.5V447.9H1174.9V442.6H1179.3V443.0H1183.7V445.4H1188.1V450.1H1192.5V455.2H1196.9V460.1H1201.3V464.2H1205.7V466.5H1210.1V465.7H1214.5V466.5H1218.9V345.3Z" fill="#f1975a"/>
<path d="M107.5,345.3V394.4H114.9V391.2H119.3V388.6H123.7V388.0H128.1V386.9H132.5V387.1H136.9V387.6H141.3V390.3H145.7V391.4H150.1V392.0H154.5V391.4H158.9V390.5H163.3V388.4H167.7V384.5H172.1V383.3H176.5V384.3H180.9V388.2H185.3V391.7H189.7V393.9H194.1V396.1H198.5V398.7H202.9V400.0H207.3V400.4H220.5V399.8H224.9V397.1H229.3V396.4H233.7V397.7H238.1V399.6H242.5V401.3H246.9V402.5H251.3V403.8H255.6V405.1H264.4V404.7H268.8V403.9H273.2V401.8H282.0V403.3H286.4V404.8H290.8V407.8H295.2V411.8H299.6V415.6H304.0V419.4H308.4V419.9H312.8V420.8H317.2V422.5H326.0V420.8H330.4V416.0H334.8V415.8H339.2V417.9H343.6V420.2H348.0V422.8H352.4V425.5H356.8V428.6H361.2V431.9H365.6V435.3H370.0V435.5H374.4V433.9H378.8V429.6H383.2V426.0H387.6V425.2H392.0V424.8H396.4V428.5H400.8V432.7H405.2V436.8H409.6V439.1H414.0V440.6H418.4V439.4H422.8V435.3H427.2V430.0H431.6V426.0H436.0V422.1H440.4V422.0H444.8V422.5H449.2V426.2H453.6V429.8H458.0V432.7H462.4V434.9H466.8V435.4H471.2V436.3H475.6V437.4H480.0V434.4H484.4V430.9H488.8V427.8H493.2V426.8H497.6V427.9H502.0V432.2H506.4V437.0H510.8V441.4H515.2V443.1H519.6V443.7H524.0V439.8H528.4V430.2H532.8V419.6H537.2V408.3H541.5V398.3H545.9V391.8H550.3V388.0H554.7V388.6H559.1V391.1H563.5V396.8H567.9V402.3H572.3V406.2H576.7V406.6H581.1V406.4H585.5V405.3H589.9V403.4H594.3V400.6H598.7V401.3H603.1V403.2H607.5V409.1H611.9V414.2H616.3V419.0H620.7V421.5H625.1V421.7H629.5V420.3H633.9V417.1H638.3V414.4H642.7V412.0H647.1V410.5H651.5V411.4H655.9V414.0H660.3V419.1H664.7V424.3H669.1V427.5H673.5V429.9H677.9V428.2H682.3V426.2H686.7V423.7H691.1V422.9H695.5V421.2H699.9V418.1H704.3V417.3H708.7V417.6H713.1V421.4H717.5V424.3H721.9V426.7H726.3V428.9H730.7V429.4H735.1V428.3H739.5V425.6H743.9V422.3H748.3V418.0H752.7V411.4H757.1V410.6H761.5V412.4H765.9V416.8H770.3V419.4H774.7V421.9H779.1V424.4H783.5V425.6H787.9V424.3H792.3V420.5H796.7V415.6H801.1V413.3H805.5V411.3H809.9V413.7H814.3V417.4H818.7V422.4H823.1V424.4H827.5V426.4H831.8V428.6H836.2V430.8H840.6V428.4H845.0V425.8H849.4V423.6H853.8V420.5H858.2V416.9H862.6V417.5H867.0V419.3H871.4V422.0H875.8V425.2H880.2V428.5H884.6V431.2H889.0V432.1H893.4V430.5H897.8V428.4H902.2V426.2H906.6V422.4H911.0V418.7H915.4V415.4H919.8V415.8H924.2V419.5H928.6V424.5H933.0V428.4H937.4V431.2H941.8V431.7H946.2V429.2H950.6V427.1H955.0V425.1H959.4V421.6H963.8V418.7H968.2V418.0H972.6V421.2H977.0V425.9H981.4V429.2H985.8V431.5H990.2V432.6H994.6V433.7H999.0V434.7H1007.8V433.8H1012.2V431.3H1016.6V427.8H1021.0V424.9H1025.4V422.6H1029.8V427.6H1034.2V432.6H1038.6V437.6H1043.0V441.4H1047.4V444.1H1051.8V445.9H1056.2V444.6H1060.6V441.6H1065.0V437.0H1069.4V430.0H1073.8V426.2H1078.2V427.6H1082.6V433.8H1087.0V438.2H1091.4V441.0H1095.8V442.2H1100.2V443.1H1104.6V439.7H1109.0V435.4H1113.4V430.6H1117.7V425.7H1122.1V421.4H1126.5V418.8H1130.9V421.4H1135.3V429.8H1139.7V436.3H1144.1V442.4H1148.5V448.9H1152.9V453.6H1157.3V454.4H1161.7V453.9H1166.1V452.3H1170.5V447.9H1174.9V442.6H1179.3V443.0H1183.7V445.4H1188.1V450.1H1192.5V455.2H1196.9V460.1H1201.3V464.2H1205.7V466.5H1210.1V465.7H1214.5V466.5H1218.9V467.4H1223.3V469.1H1227.7V463.9H1232.1V469.8H1236.5V471.6H1240.9V476.5H1245.3V472.5H1249.7V471.1H1254.1V470.3H1261.5V345.3Z" fill="#4472c4"/>
<line x1="110.5" x2="1258.5" y1="345.3" y2="345.3" stroke="#d9d9d9" stroke-width="1.4"/>
</g>
<g>
<text x="164.8" y="49" font-size="32.7" fill="#595959" textLength="949.6" lengthAdjust="spacingAndGlyphs">Global goods trade, USD billion, trailing 3m sums, nsa, annualized</text>
<text x="23.2" y="97.9" font-size="26" fill="#595959" textLength="59.7" lengthAdjust="spacingAndGlyphs">2500</text>
<text x="23.2" y="149.2" font-size="26" fill="#595959" textLength="59.7" lengthAdjust="spacingAndGlyphs">2000</text>
<text x="23.2" y="200.4" font-size="26" fill="#595959" textLength="59.7" lengthAdjust="spacingAndGlyphs">1500</text>
<text x="23.2" y="251.7" font-size="26" fill="#595959" textLength="59.7" lengthAdjust="spacingAndGlyphs">1000</text>
<text x="38.1" y="303.0" font-size="26" fill="#595959" textLength="44.8" lengthAdjust="spacingAndGlyphs">500</text>
<text x="68.0" y="354.2" font-size="26" fill="#595959" textLength="14.9" lengthAdjust="spacingAndGlyphs">0</text>
<text x="29.2" y="405.5" font-size="26" fill="#595959" textLength="53.7" lengthAdjust="spacingAndGlyphs">-500</text>
<text x="14.3" y="456.7" font-size="26" fill="#595959" textLength="68.6" lengthAdjust="spacingAndGlyphs">-1000</text>
<text x="14.3" y="508.0" font-size="26" fill="#595959" textLength="68.6" lengthAdjust="spacingAndGlyphs">-1500</text>
<text x="14.3" y="559.3" font-size="26" fill="#595959" textLength="68.6" lengthAdjust="spacingAndGlyphs">-2000</text>
<text x="14.3" y="610.5" font-size="26" fill="#595959" textLength="68.6" lengthAdjust="spacingAndGlyphs">-2500</text>
<text x="14.3" y="661.8" font-size="26" fill="#595959" textLength="68.6" lengthAdjust="spacingAndGlyphs">-3000</text>
<text transform="translate(123.4,672.8) rotate(-90)" text-anchor="end" font-size="26" fill="#595959" textLength="114.5" lengthAdjust="spacingAndGlyphs">Dec-2000</text>
<text transform="translate(163.0,672.8) rotate(-90)" text-anchor="end" font-size="26" fill="#595959" textLength="114.5" lengthAdjust="spacingAndGlyphs">Sep-2001</text>
<text transform="translate(202.6,672.8) rotate(-90)" text-anchor="end" font-size="26" fill="#595959" textLength="110.5" lengthAdjust="spacingAndGlyphs">Jun-2002</text>
<text transform="translate(242.2,672.8) rotate(-90)" text-anchor="end" font-size="26" fill="#595959" textLength="118.5" lengthAdjust="spacingAndGlyphs">Mar-2003</text>
<text transform="translate(281.7,672.8) rotate(-90)" text-anchor="end" font-size="26" fill="#595959" textLength="114.5" lengthAdjust="spacingAndGlyphs">Dec-2003</text>
<text transform="translate(321.3,672.8) rotate(-90)" text-anchor="end" font-size="26" fill="#595959" textLength="114.5" lengthAdjust="spacingAndGlyphs">Sep-2004</text>
<text transform="translate(360.9,672.8) rotate(-90)" text-anchor="end" font-size="26" fill="#595959" textLength="110.5" lengthAdjust="spacingAndGlyphs">Jun-2005</text>
<text transform="translate(400.5,672.8) rotate(-90)" text-anchor="end" font-size="26" fill="#595959" textLength="118.5" lengthAdjust="spacingAndGlyphs">Mar-2006</text>
<text transform="translate(440.1,672.8) rotate(-90)" text-anchor="end" font-size="26" fill="#595959" textLength="114.5" lengthAdjust="spacingAndGlyphs">Dec-2006</text>
<text transform="translate(479.7,672.8) rotate(-90)" text-anchor="end" font-size="26" fill="#595959" textLength="114.5" lengthAdjust="spacingAndGlyphs">Sep-2007</text>
<text transform="translate(519.3,672.8) rotate(-90)" text-anchor="end" font-size="26" fill="#595959" textLength="110.5" lengthAdjust="spacingAndGlyphs">Jun-2008</text>
<text transform="translate(558.8,672.8) rotate(-90)" text-anchor="end" font-size="26" fill="#595959" textLength="118.5" lengthAdjust="spacingAndGlyphs">Mar-2009</text>
<text transform="translate(598.4,672.8) rotate(-90)" text-anchor="end" font-size="26" fill="#595959" textLength="114.5" lengthAdjust="spacingAndGlyphs">Dec-2009</text>
<text transform="translate(638.0,672.8) rotate(-90)" text-anchor="end" font-size="26" fill="#595959" textLength="114.5" lengthAdjust="spacingAndGlyphs">Sep-2010</text>
<text transform="translate(677.6,672.8) rotate(-90)" text-anchor="end" font-size="26" fill="#595959" textLength="110.5" lengthAdjust="spacingAndGlyphs">Jun-2011</text>
<text transform="translate(717.2,672.8) rotate(-90)" text-anchor="end" font-size="26" fill="#595959" textLength="118.5" lengthAdjust="spacingAndGlyphs">Mar-2012</text>
<text transform="translate(756.8,672.8) rotate(-90)" text-anchor="end" font-size="26" fill="#595959" textLength="114.5" lengthAdjust="spacingAndGlyphs">Dec-2012</text>
<text transform="translate(796.4,672.8) rotate(-90)" text-anchor="end" font-size="26" fill="#595959" textLength="114.5" lengthAdjust="spacingAndGlyphs">Sep-2013</text>
<text transform="translate(836.0,672.8) rotate(-90)" text-anchor="end" font-size="26" fill="#595959" textLength="110.5" lengthAdjust="spacingAndGlyphs">Jun-2014</text>
<text transform="translate(875.5,672.8) rotate(-90)" text-anchor="end" font-size="26" fill="#595959" textLength="118.5" lengthAdjust="spacingAndGlyphs">Mar-2015</text>
<text transform="translate(915.1,672.8) rotate(-90)" text-anchor="end" font-size="26" fill="#595959" textLength="114.5" lengthAdjust="spacingAndGlyphs">Dec-2015</text>
<text transform="translate(954.7,672.8) rotate(-90)" text-anchor="end" font-size="26" fill="#595959" textLength="114.5" lengthAdjust="spacingAndGlyphs">Sep-2016</text>
<text transform="translate(994.3,672.8) rotate(-90)" text-anchor="end" font-size="26" fill="#595959" textLength="110.5" lengthAdjust="spacingAndGlyphs">Jun-2017</text>
<text transform="translate(1033.9,672.8) rotate(-90)" text-anchor="end" font-size="26" fill="#595959" textLength="118.5" lengthAdjust="spacingAndGlyphs">Mar-2018</text>
<text transform="translate(1073.5,672.8) rotate(-90)" text-anchor="end" font-size="26" fill="#595959" textLength="114.5" lengthAdjust="spacingAndGlyphs">Dec-2018</text>
<text transform="translate(1113.1,672.8) rotate(-90)" text-anchor="end" font-size="26" fill="#595959" textLength="114.5" lengthAdjust="spacingAndGlyphs">Sep-2019</text>
<text transform="translate(1152.6,672.8) rotate(-90)" text-anchor="end" font-size="26" fill="#595959" textLength="110.5" lengthAdjust="spacingAndGlyphs">Jun-2020</text>
<text transform="translate(1192.2,672.8) rotate(-90)" text-anchor="end" font-size="26" fill="#595959" textLength="118.5" lengthAdjust="spacingAndGlyphs">Mar-2021</text>
<text transform="translate(1231.8,672.8) rotate(-90)" text-anchor="end" font-size="26" fill="#595959" textLength="114.5" lengthAdjust="spacingAndGlyphs">Dec-2021</text>
<rect x="98.4" y="818.1" width="12" height="12" fill="#4472c4"/>
<text x="117.5" y="830.7" font-size="19.6" fill="#595959" textLength="22.5" lengthAdjust="spacingAndGlyphs">US</text>
<rect x="236.0" y="818.1" width="12" height="12" fill="#ed7d31"/>
<text x="255.1" y="830.7" font-size="19.6" fill="#595959" textLength="78.2" lengthAdjust="spacingAndGlyphs">Australia</text>
<rect x="372.7" y="818.1" width="12" height="12" fill="#a5a5a5"/>
<text x="391.8" y="830.7" font-size="19.6" fill="#595959" textLength="65.6" lengthAdjust="spacingAndGlyphs">Canada</text>
<rect x="510.3" y="818.1" width="12" height="12" fill="#002060"/>
<text x="529.4" y="830.7" font-size="19.6" fill="#595959" textLength="24" lengthAdjust="spacingAndGlyphs">UK</text>
<rect x="647.5" y="818.1" width="12" height="12" fill="#ffc000"/>
<text x="666.6" y="830.7" font-size="19.6" fill="#595959" textLength="42.2" lengthAdjust="spacingAndGlyphs">India</text>
<rect x="785.0" y="818.1" width="12" height="12" fill="#c55a11"/>
<text x="804.1" y="830.7" font-size="19.6" fill="#595959" textLength="60.2" lengthAdjust="spacingAndGlyphs">Turkey</text>
<rect x="922.2" y="818.1" width="12" height="12" fill="#264478"/>
<text x="941.3" y="830.7" font-size="19.6" fill="#595959" textLength="88" lengthAdjust="spacingAndGlyphs">Argentina</text>
<rect x="1059.7" y="818.1" width="12" height="12" fill="#92d050"/>
<text x="1078.8" y="830.7" font-size="19.6" fill="#595959" textLength="48.5" lengthAdjust="spacingAndGlyphs">Brazil</text>
<rect x="98.4" y="856.6" width="12" height="12" fill="#636363"/>
<text x="117.5" y="869.1" font-size="19.6" fill="#595959" textLength="83.5" lengthAdjust="spacingAndGlyphs">Colombia</text>
<rect x="236.0" y="856.6" width="12" height="12" fill="#ffc000"/>
<text x="255.1" y="869.1" font-size="19.6" fill="#595959" textLength="63.4" lengthAdjust="spacingAndGlyphs">Mexico</text>
<rect x="372.7" y="856.6" width="12" height="12" fill="#d0cece"/>
<text x="391.8" y="869.1" font-size="19.6" fill="#595959" textLength="21.8" lengthAdjust="spacingAndGlyphs">EA</text>
<rect x="510.3" y="856.6" width="12" height="12" fill="#fbe5d6"/>
<text x="529.4" y="869.1" font-size="19.6" fill="#595959" textLength="50" lengthAdjust="spacingAndGlyphs">Japan</text>
<rect x="647.5" y="856.6" width="12" height="12" fill="#ff0000"/>
<text x="666.6" y="869.1" font-size="19.6" fill="#595959" textLength="49" lengthAdjust="spacingAndGlyphs">China</text>
<rect x="785.0" y="856.6" width="12" height="12" fill="#f1975a"/>
<text x="804.1" y="869.1" font-size="19.6" fill="#595959" textLength="50.2" lengthAdjust="spacingAndGlyphs">Korea</text>
<rect x="922.2" y="856.6" width="12" height="12" fill="#b7b7b7"/>
<text x="941.3" y="869.1" font-size="19.6" fill="#595959" textLength="64" lengthAdjust="spacingAndGlyphs">Taiwan</text>
<rect x="1059.7" y="856.6" width="12" height="12" fill="#ffcd33"/>
<text x="1078.8" y="869.1" font-size="19.6" fill="#595959" textLength="75.6" lengthAdjust="spacingAndGlyphs">Vietnam</text>
<rect x="98.4" y="895.6" width="12" height="12" fill="#7cafdd"/>
<text x="117.5" y="907.9" font-size="19.6" fill="#595959" textLength="85.6" lengthAdjust="spacingAndGlyphs">Indonesia</text>
<rect x="236.0" y="895.6" width="12" height="12" fill="#8cc168"/>
<text x="255.1" y="907.9" font-size="19.6" fill="#595959" textLength="77.5" lengthAdjust="spacingAndGlyphs">Malaysia</text>
<rect x="372.7" y="895.6" width="12" height="12" fill="#335aa1"/>
<text x="391.8" y="907.9" font-size="19.6" fill="#595959" textLength="76" lengthAdjust="spacingAndGlyphs">Thailand</text>
<rect x="510.3" y="895.6" width="12" height="12" fill="#f8cbad"/>
<text x="529.4" y="907.9" font-size="19.6" fill="#595959" textLength="55.4" lengthAdjust="spacingAndGlyphs">Russia</text>
<rect x="647.5" y="895.6" width="12" height="12" fill="#000000"/>
<text x="666.6" y="907.9" font-size="19.6" fill="#595959" textLength="48.4" lengthAdjust="spacingAndGlyphs">Saudi</text>
<rect x="785.0" y="895.6" width="12" height="12" fill="#bf9000"/>
<text x="804.1" y="907.9" font-size="19.6" fill="#595959" textLength="110" lengthAdjust="spacingAndGlyphs">UAE+Kuwait</text>
<rect x="922.2" y="895.6" width="12" height="12" fill="#2e75b6"/>
<text x="941.3" y="907.9" font-size="19.6" fill="#595959" textLength="63.4" lengthAdjust="spacingAndGlyphs">Nigeria</text>
</g>
</svg>
</body></html>
